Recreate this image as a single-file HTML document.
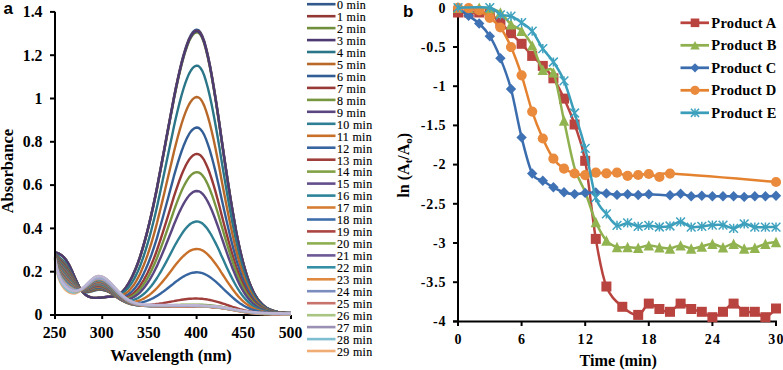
<!DOCTYPE html><html><head><meta charset="utf-8"><style>html,body{margin:0;padding:0;background:#fff;overflow:hidden}svg{display:block}</style></head><body><svg width="783" height="370" viewBox="0 0 783 370">
<rect width="783" height="370" fill="#fff"/>
<g stroke="#000" stroke-width="2" fill="none">
<line x1="50" y1="315.0" x2="291.0" y2="315.0"/>
<line x1="55.0" y1="315.0" x2="55.0" y2="319"/>
<line x1="102.2" y1="315.0" x2="102.2" y2="319"/>
<line x1="149.4" y1="315.0" x2="149.4" y2="319"/>
<line x1="196.6" y1="315.0" x2="196.6" y2="319"/>
<line x1="243.8" y1="315.0" x2="243.8" y2="319"/>
<line x1="291.0" y1="315.0" x2="291.0" y2="319"/>
</g>
<path d="M55.0,252.4 L56.9,252.9 L58.8,253.6 L60.7,254.7 L62.6,256.0 L64.4,257.9 L66.3,260.3 L68.2,263.3 L70.1,266.9 L72.0,271.0 L73.9,275.4 L75.8,279.7 L77.7,283.8 L79.5,287.4 L81.4,290.4 L83.3,292.7 L85.2,294.5 L87.1,295.8 L89.0,296.7 L90.9,297.3 L92.8,297.7 L94.6,297.9 L96.5,297.9 L98.4,297.8 L100.3,297.7 L102.2,297.5 L104.1,297.2 L106.0,297.0 L107.9,296.8 L109.8,296.6 L111.6,296.5 L113.5,296.3 L115.4,296.0 L117.3,295.3 L119.2,294.3 L121.1,292.8 L123.0,291.0 L124.9,288.8 L126.7,286.1 L128.6,283.1 L130.5,279.8 L132.4,276.0 L134.3,271.8 L136.2,267.2 L138.1,262.2 L140.0,256.7 L141.8,250.8 L143.7,244.4 L145.6,237.5 L147.5,230.2 L149.4,222.5 L151.3,214.3 L153.2,205.7 L155.1,196.7 L157.0,187.4 L158.8,177.8 L160.7,167.9 L162.6,157.8 L164.5,147.6 L166.4,137.3 L168.3,127.1 L170.2,116.9 L172.1,106.9 L173.9,97.2 L175.8,87.8 L177.7,78.9 L179.6,70.4 L181.5,62.6 L183.4,55.4 L185.3,49.0 L187.2,43.5 L189.0,38.8 L190.9,35.0 L192.8,32.2 L194.7,30.4 L196.6,29.7 L198.5,30.1 L200.4,32.2 L202.3,35.8 L204.2,40.9 L206.0,47.5 L207.9,55.4 L209.8,64.5 L211.7,74.6 L213.6,85.7 L215.5,97.5 L217.4,109.8 L219.3,122.6 L221.1,135.5 L223.0,148.6 L224.9,161.6 L226.8,174.3 L228.7,186.8 L230.6,198.8 L232.5,210.3 L234.4,221.2 L236.2,231.4 L238.1,240.9 L240.0,249.7 L241.9,257.7 L243.8,265.1 L245.7,271.7 L247.6,277.6 L249.5,282.8 L251.4,287.4 L253.2,291.5 L255.1,295.0 L257.0,298.0 L258.9,300.7 L260.8,302.9 L262.7,304.8 L264.6,306.3 L266.5,307.6 L268.3,308.7 L270.2,309.6 L272.1,310.4 L274.0,311.0 L275.9,311.5 L277.8,311.9 L279.7,312.2 L281.6,312.4 L283.4,312.6 L285.3,312.8 L287.2,312.9 L289.1,313.0 L291.0,313.0" fill="none" stroke="#33598C" stroke-width="2.4" stroke-linejoin="round"/>
<path d="M55.0,252.4 L56.9,252.9 L58.8,253.6 L60.7,254.7 L62.6,256.0 L64.4,257.9 L66.3,260.3 L68.2,263.3 L70.1,266.9 L72.0,271.0 L73.9,275.4 L75.8,279.7 L77.7,283.8 L79.5,287.4 L81.4,290.4 L83.3,292.7 L85.2,294.5 L87.1,295.8 L89.0,296.7 L90.9,297.3 L92.8,297.7 L94.6,297.9 L96.5,297.9 L98.4,297.8 L100.3,297.7 L102.2,297.5 L104.1,297.2 L106.0,297.0 L107.9,296.8 L109.8,296.7 L111.6,296.6 L113.5,296.4 L115.4,296.0 L117.3,295.4 L119.2,294.4 L121.1,293.0 L123.0,291.1 L124.9,288.9 L126.7,286.3 L128.6,283.3 L130.5,279.9 L132.4,276.2 L134.3,272.0 L136.2,267.5 L138.1,262.5 L140.0,257.0 L141.8,251.1 L143.7,244.8 L145.6,237.9 L147.5,230.7 L149.4,223.0 L151.3,214.8 L153.2,206.2 L155.1,197.3 L157.0,188.0 L158.8,178.4 L160.7,168.6 L162.6,158.5 L164.5,148.4 L166.4,138.1 L168.3,127.9 L170.2,117.8 L172.1,107.8 L173.9,98.1 L175.8,88.7 L177.7,79.8 L179.6,71.4 L181.5,63.6 L183.4,56.5 L185.3,50.1 L187.2,44.5 L189.0,39.8 L190.9,36.1 L192.8,33.3 L194.7,31.5 L196.6,30.8 L198.5,31.2 L200.4,33.2 L202.3,36.8 L204.2,42.0 L206.0,48.5 L207.9,56.4 L209.8,65.4 L211.7,75.5 L213.6,86.6 L215.5,98.3 L217.4,110.6 L219.3,123.3 L221.1,136.2 L223.0,149.2 L224.9,162.1 L226.8,174.9 L228.7,187.3 L230.6,199.2 L232.5,210.7 L234.4,221.5 L236.2,231.7 L238.1,241.2 L240.0,249.9 L241.9,257.9 L243.8,265.2 L245.7,271.8 L247.6,277.7 L249.5,282.9 L251.4,287.5 L253.2,291.6 L255.1,295.1 L257.0,298.1 L258.9,300.7 L260.8,302.9 L262.7,304.8 L264.6,306.4 L266.5,307.7 L268.3,308.8 L270.2,309.7 L272.1,310.4 L274.0,311.0 L275.9,311.5 L277.8,311.9 L279.7,312.2 L281.6,312.4 L283.4,312.6 L285.3,312.8 L287.2,312.9 L289.1,313.0 L291.0,313.0" fill="none" stroke="#923734" stroke-width="2.4" stroke-linejoin="round"/>
<path d="M55.0,252.4 L56.9,252.9 L58.8,253.6 L60.7,254.7 L62.6,256.1 L64.4,257.9 L66.3,260.3 L68.2,263.3 L70.1,266.9 L72.0,271.0 L73.9,275.4 L75.8,279.7 L77.7,283.8 L79.5,287.4 L81.4,290.4 L83.3,292.7 L85.2,294.5 L87.1,295.8 L89.0,296.7 L90.9,297.3 L92.8,297.7 L94.6,297.9 L96.5,297.9 L98.4,297.9 L100.3,297.7 L102.2,297.5 L104.1,297.3 L106.0,297.1 L107.9,296.9 L109.8,296.7 L111.6,296.6 L113.5,296.5 L115.4,296.1 L117.3,295.5 L119.2,294.5 L121.1,293.1 L123.0,291.3 L124.9,289.1 L126.7,286.5 L128.6,283.6 L130.5,280.2 L132.4,276.5 L134.3,272.4 L136.2,267.8 L138.1,262.9 L140.0,257.5 L141.8,251.6 L143.7,245.3 L145.6,238.5 L147.5,231.3 L149.4,223.6 L151.3,215.5 L153.2,207.0 L155.1,198.1 L157.0,188.9 L158.8,179.3 L160.7,169.5 L162.6,159.5 L164.5,149.4 L166.4,139.2 L168.3,129.0 L170.2,118.9 L172.1,109.0 L173.9,99.4 L175.8,90.0 L177.7,81.1 L179.6,72.8 L181.5,65.0 L183.4,57.9 L185.3,51.5 L187.2,46.0 L189.0,41.3 L190.9,37.6 L192.8,34.8 L194.7,33.0 L196.6,32.3 L198.5,32.7 L200.4,34.7 L202.3,38.3 L204.2,43.4 L206.0,49.9 L207.9,57.8 L209.8,66.8 L211.7,76.8 L213.6,87.8 L215.5,99.4 L217.4,111.7 L219.3,124.3 L221.1,137.2 L223.0,150.1 L224.9,163.0 L226.8,175.6 L228.7,187.9 L230.6,199.8 L232.5,211.2 L234.4,222.0 L236.2,232.1 L238.1,241.5 L240.0,250.3 L241.9,258.2 L243.8,265.5 L245.7,272.0 L247.6,277.9 L249.5,283.1 L251.4,287.7 L253.2,291.7 L255.1,295.2 L257.0,298.2 L258.9,300.8 L260.8,303.0 L262.7,304.8 L264.6,306.4 L266.5,307.7 L268.3,308.8 L270.2,309.7 L272.1,310.4 L274.0,311.0 L275.9,311.5 L277.8,311.9 L279.7,312.2 L281.6,312.4 L283.4,312.6 L285.3,312.8 L287.2,312.9 L289.1,313.0 L291.0,313.1" fill="none" stroke="#718E3C" stroke-width="2.4" stroke-linejoin="round"/>
<path d="M55.0,252.4 L56.9,252.9 L58.8,253.6 L60.7,254.7 L62.6,256.1 L64.4,257.9 L66.3,260.3 L68.2,263.3 L70.1,266.9 L72.0,271.0 L73.9,275.4 L75.8,279.7 L77.7,283.8 L79.5,287.4 L81.4,290.4 L83.3,292.7 L85.2,294.5 L87.1,295.8 L89.0,296.7 L90.9,297.3 L92.8,297.7 L94.6,297.9 L96.5,297.9 L98.4,297.8 L100.3,297.7 L102.2,297.5 L104.1,297.3 L106.0,297.0 L107.9,296.8 L109.8,296.7 L111.6,296.6 L113.5,296.4 L115.4,296.1 L117.3,295.4 L119.2,294.4 L121.1,293.0 L123.0,291.2 L124.9,288.9 L126.7,286.4 L128.6,283.4 L130.5,280.0 L132.4,276.3 L134.3,272.1 L136.2,267.6 L138.1,262.6 L140.0,257.2 L141.8,251.3 L143.7,244.9 L145.6,238.1 L147.5,230.8 L149.4,223.1 L151.3,215.0 L153.2,206.5 L155.1,197.5 L157.0,188.2 L158.8,178.7 L160.7,168.8 L162.6,158.8 L164.5,148.7 L166.4,138.4 L168.3,128.2 L170.2,118.1 L172.1,108.2 L173.9,98.5 L175.8,89.1 L177.7,80.2 L179.6,71.8 L181.5,64.0 L183.4,56.9 L185.3,50.5 L187.2,44.9 L189.0,40.2 L190.9,36.5 L192.8,33.7 L194.7,31.9 L196.6,31.2 L198.5,31.6 L200.4,33.7 L202.3,37.3 L204.2,42.4 L206.0,48.9 L207.9,56.8 L209.8,65.8 L211.7,75.9 L213.6,86.9 L215.5,98.6 L217.4,110.9 L219.3,123.6 L221.1,136.5 L223.0,149.5 L224.9,162.4 L226.8,175.1 L228.7,187.5 L230.6,199.4 L232.5,210.8 L234.4,221.6 L236.2,231.8 L238.1,241.3 L240.0,250.0 L241.9,258.0 L243.8,265.3 L245.7,271.9 L247.6,277.8 L249.5,283.0 L251.4,287.6 L253.2,291.6 L255.1,295.1 L257.0,298.1 L258.9,300.7 L260.8,302.9 L262.7,304.8 L264.6,306.4 L266.5,307.7 L268.3,308.8 L270.2,309.7 L272.1,310.4 L274.0,311.0 L275.9,311.5 L277.8,311.9 L279.7,312.2 L281.6,312.4 L283.4,312.6 L285.3,312.8 L287.2,312.9 L289.1,313.0 L291.0,313.0" fill="none" stroke="#4D3A73" stroke-width="2.4" stroke-linejoin="round"/>
<path d="M55.0,253.3 L56.9,255.3 L58.8,256.8 L60.7,258.4 L62.6,260.1 L64.4,262.1 L66.3,264.6 L68.2,267.6 L70.1,271.0 L72.0,274.7 L73.9,278.5 L75.8,282.2 L77.7,285.4 L79.5,288.1 L81.4,290.1 L83.3,291.4 L85.2,292.1 L87.1,292.3 L89.0,292.1 L90.9,291.7 L92.8,291.1 L94.6,290.6 L96.5,290.1 L98.4,289.8 L100.3,289.8 L102.2,289.9 L104.1,290.2 L106.0,290.6 L107.9,291.2 L109.8,291.9 L111.6,292.6 L113.5,293.3 L115.4,293.9 L117.3,294.1 L119.2,294.0 L121.1,293.5 L123.0,292.6 L124.9,291.2 L126.7,289.5 L128.6,287.4 L130.5,284.8 L132.4,281.9 L134.3,278.6 L136.2,274.9 L138.1,270.8 L140.0,266.3 L141.8,261.4 L143.7,256.0 L145.6,250.2 L147.5,243.9 L149.4,237.3 L151.3,230.2 L153.2,222.8 L155.1,215.0 L157.0,206.8 L158.8,198.4 L160.7,189.7 L162.6,180.8 L164.5,171.8 L166.4,162.6 L168.3,153.5 L170.2,144.4 L172.1,135.5 L173.9,126.7 L175.8,118.3 L177.7,110.2 L179.6,102.6 L181.5,95.5 L183.4,89.0 L185.3,83.2 L187.2,78.1 L189.0,73.9 L190.9,70.5 L192.8,67.9 L194.7,66.3 L196.6,65.6 L198.5,66.0 L200.4,67.8 L202.3,70.9 L204.2,75.4 L206.0,81.2 L207.9,88.0 L209.8,96.0 L211.7,104.8 L213.6,114.4 L215.5,124.7 L217.4,135.5 L219.3,146.6 L221.1,157.9 L223.0,169.3 L224.9,180.6 L226.8,191.8 L228.7,202.7 L230.6,213.1 L232.5,223.2 L234.4,232.7 L236.2,241.6 L238.1,249.9 L240.0,257.6 L241.9,264.7 L243.8,271.1 L245.7,276.9 L247.6,282.0 L249.5,286.6 L251.4,290.7 L253.2,294.2 L255.1,297.3 L257.0,300.0 L258.9,302.3 L260.8,304.2 L262.7,305.9 L264.6,307.2 L266.5,308.4 L268.3,309.4 L270.2,310.2 L272.1,310.8 L274.0,311.3 L275.9,311.8 L277.8,312.1 L279.7,312.4 L281.6,312.6 L283.4,312.8 L285.3,312.9 L287.2,313.0 L289.1,313.1 L291.0,313.2" fill="none" stroke="#2A7587" stroke-width="2.4" stroke-linejoin="round"/>
<path d="M55.0,253.7 L56.9,256.3 L58.8,258.2 L60.7,259.9 L62.6,261.8 L64.4,263.8 L66.3,266.3 L68.2,269.1 L70.1,272.3 L72.0,275.8 L73.9,279.4 L75.8,282.8 L77.7,285.8 L79.5,288.3 L81.4,290.1 L83.3,291.3 L85.2,291.8 L87.1,291.9 L89.0,291.7 L90.9,291.3 L92.8,290.7 L94.6,290.2 L96.5,289.8 L98.4,289.6 L100.3,289.6 L102.2,289.8 L104.1,290.1 L106.0,290.7 L107.9,291.4 L109.8,292.2 L111.6,293.1 L113.5,294.0 L115.4,294.8 L117.3,295.3 L119.2,295.5 L121.1,295.4 L123.0,294.9 L124.9,293.9 L126.7,292.7 L128.6,291.1 L130.5,289.1 L132.4,286.8 L134.3,284.2 L136.2,281.1 L138.1,277.7 L140.0,274.0 L141.8,269.8 L143.7,265.3 L145.6,260.4 L147.5,255.1 L149.4,249.4 L151.3,243.3 L153.2,236.9 L155.1,230.1 L157.0,223.0 L158.8,215.6 L160.7,208.0 L162.6,200.1 L164.5,192.2 L166.4,184.1 L168.3,176.0 L170.2,167.9 L172.1,159.9 L173.9,152.1 L175.8,144.5 L177.7,137.2 L179.6,130.4 L181.5,124.0 L183.4,118.2 L185.3,112.9 L187.2,108.3 L189.0,104.5 L190.9,101.4 L192.8,99.1 L194.7,97.6 L196.6,97.0 L198.5,97.4 L200.4,98.9 L202.3,101.7 L204.2,105.6 L206.0,110.6 L207.9,116.6 L209.8,123.5 L211.7,131.2 L213.6,139.6 L215.5,148.5 L217.4,157.9 L219.3,167.6 L221.1,177.5 L223.0,187.4 L224.9,197.3 L226.8,207.0 L228.7,216.5 L230.6,225.7 L232.5,234.4 L234.4,242.7 L236.2,250.6 L238.1,257.8 L240.0,264.6 L241.9,270.7 L243.8,276.3 L245.7,281.4 L247.6,285.9 L249.5,290.0 L251.4,293.5 L253.2,296.6 L255.1,299.3 L257.0,301.7 L258.9,303.7 L260.8,305.4 L262.7,306.8 L264.6,308.0 L266.5,309.0 L268.3,309.9 L270.2,310.6 L272.1,311.1 L274.0,311.6 L275.9,312.0 L277.8,312.3 L279.7,312.5 L281.6,312.7 L283.4,312.9 L285.3,313.0 L287.2,313.1 L289.1,313.2 L291.0,313.2" fill="none" stroke="#B8692A" stroke-width="2.4" stroke-linejoin="round"/>
<path d="M55.0,254.0 L56.9,256.9 L58.8,259.0 L60.7,260.9 L62.6,262.7 L64.4,264.8 L66.3,267.2 L68.2,270.0 L70.1,273.1 L72.0,276.5 L73.9,280.0 L75.8,283.2 L77.7,286.1 L79.5,288.4 L81.4,290.1 L83.3,291.1 L85.2,291.6 L87.1,291.7 L89.0,291.4 L90.9,290.9 L92.8,290.3 L94.6,289.8 L96.5,289.4 L98.4,289.2 L100.3,289.3 L102.2,289.5 L104.1,290.0 L106.0,290.6 L107.9,291.5 L109.8,292.4 L111.6,293.5 L113.5,294.6 L115.4,295.6 L117.3,296.4 L119.2,296.8 L121.1,297.0 L123.0,296.8 L124.9,296.3 L126.7,295.4 L128.6,294.3 L130.5,292.8 L132.4,291.0 L134.3,288.9 L136.2,286.5 L138.1,283.8 L140.0,280.8 L141.8,277.4 L143.7,273.6 L145.6,269.5 L147.5,265.1 L149.4,260.3 L151.3,255.2 L153.2,249.7 L155.1,243.9 L157.0,237.9 L158.8,231.5 L160.7,225.0 L162.6,218.2 L164.5,211.3 L166.4,204.2 L168.3,197.2 L170.2,190.1 L172.1,183.1 L173.9,176.2 L175.8,169.6 L177.7,163.2 L179.6,157.1 L181.5,151.5 L183.4,146.3 L185.3,141.7 L187.2,137.6 L189.0,134.2 L190.9,131.4 L192.8,129.4 L194.7,128.1 L196.6,127.5 L198.5,127.8 L200.4,129.2 L202.3,131.5 L204.2,134.9 L206.0,139.1 L207.9,144.3 L209.8,150.2 L211.7,156.8 L213.6,164.0 L215.5,171.6 L217.4,179.7 L219.3,188.0 L221.1,196.5 L223.0,205.0 L224.9,213.5 L226.8,221.8 L228.7,230.0 L230.6,237.9 L232.5,245.4 L234.4,252.5 L236.2,259.3 L238.1,265.5 L240.0,271.3 L241.9,276.6 L243.8,281.5 L245.7,285.8 L247.6,289.7 L249.5,293.2 L251.4,296.3 L253.2,298.9 L255.1,301.3 L257.0,303.3 L258.9,305.0 L260.8,306.5 L262.7,307.7 L264.6,308.8 L266.5,309.6 L268.3,310.4 L270.2,311.0 L272.1,311.5 L274.0,311.9 L275.9,312.2 L277.8,312.4 L279.7,312.7 L281.6,312.8 L283.4,313.0 L285.3,313.1 L287.2,313.1 L289.1,313.2 L291.0,313.3" fill="none" stroke="#335E95" stroke-width="2.4" stroke-linejoin="round"/>
<path d="M55.0,254.2 L56.9,257.5 L58.8,259.8 L60.7,261.8 L62.6,263.7 L64.4,265.8 L66.3,268.2 L68.2,270.9 L70.1,274.0 L72.0,277.2 L73.9,280.5 L75.8,283.6 L77.7,286.3 L79.5,288.5 L81.4,290.1 L83.3,291.0 L85.2,291.4 L87.1,291.3 L89.0,291.0 L90.9,290.5 L92.8,289.9 L94.6,289.3 L96.5,288.9 L98.4,288.7 L100.3,288.8 L102.2,289.1 L104.1,289.7 L106.0,290.4 L107.9,291.3 L109.8,292.4 L111.6,293.6 L113.5,294.8 L115.4,296.0 L117.3,296.9 L119.2,297.6 L121.1,298.0 L123.0,298.1 L124.9,297.9 L126.7,297.4 L128.6,296.6 L130.5,295.5 L132.4,294.2 L134.3,292.6 L136.2,290.7 L138.1,288.5 L140.0,286.0 L141.8,283.2 L143.7,280.1 L145.6,276.7 L147.5,273.0 L149.4,269.0 L151.3,264.7 L153.2,260.1 L155.1,255.2 L157.0,250.0 L158.8,244.6 L160.7,239.0 L162.6,233.2 L164.5,227.2 L166.4,221.1 L168.3,215.0 L170.2,208.8 L172.1,202.7 L173.9,196.7 L175.8,190.9 L177.7,185.3 L179.6,180.0 L181.5,175.0 L183.4,170.5 L185.3,166.4 L187.2,162.8 L189.0,159.8 L190.9,157.4 L192.8,155.6 L194.7,154.4 L196.6,153.9 L198.5,154.2 L200.4,155.3 L202.3,157.4 L204.2,160.2 L206.0,163.9 L207.9,168.3 L209.8,173.3 L211.7,179.0 L213.6,185.1 L215.5,191.7 L217.4,198.6 L219.3,205.7 L221.1,212.9 L223.0,220.2 L224.9,227.5 L226.8,234.6 L228.7,241.6 L230.6,248.4 L232.5,254.9 L234.4,261.0 L236.2,266.8 L238.1,272.2 L240.0,277.2 L241.9,281.7 L243.8,285.9 L245.7,289.7 L247.6,293.0 L249.5,296.0 L251.4,298.6 L253.2,300.9 L255.1,303.0 L257.0,304.7 L258.9,306.2 L260.8,307.4 L262.7,308.5 L264.6,309.4 L266.5,310.2 L268.3,310.8 L270.2,311.3 L272.1,311.7 L274.0,312.1 L275.9,312.4 L277.8,312.6 L279.7,312.8 L281.6,312.9 L283.4,313.0 L285.3,313.1 L287.2,313.2 L289.1,313.3 L291.0,313.3" fill="none" stroke="#983A37" stroke-width="2.4" stroke-linejoin="round"/>
<path d="M55.0,254.5 L56.9,258.1 L58.8,260.6 L60.7,262.7 L62.6,264.7 L64.4,266.8 L66.3,269.2 L68.2,271.8 L70.1,274.8 L72.0,277.9 L73.9,281.1 L75.8,284.0 L77.7,286.6 L79.5,288.6 L81.4,290.0 L83.3,290.8 L85.2,291.1 L87.1,291.0 L89.0,290.6 L90.9,290.0 L92.8,289.3 L94.6,288.8 L96.5,288.4 L98.4,288.2 L100.3,288.3 L102.2,288.7 L104.1,289.2 L106.0,290.0 L107.9,291.0 L109.8,292.1 L111.6,293.4 L113.5,294.7 L115.4,296.0 L117.3,297.1 L119.2,297.9 L121.1,298.5 L123.0,298.8 L124.9,298.7 L126.7,298.5 L128.6,297.9 L130.5,297.1 L132.4,296.0 L134.3,294.7 L136.2,293.2 L138.1,291.3 L140.0,289.2 L141.8,286.9 L143.7,284.2 L145.6,281.3 L147.5,278.1 L149.4,274.6 L151.3,270.9 L153.2,266.8 L155.1,262.5 L157.0,258.0 L158.8,253.2 L160.7,248.2 L162.6,243.1 L164.5,237.8 L166.4,232.4 L168.3,226.9 L170.2,221.4 L172.1,216.0 L173.9,210.6 L175.8,205.4 L177.7,200.4 L179.6,195.6 L181.5,191.1 L183.4,187.0 L185.3,183.4 L187.2,180.1 L189.0,177.4 L190.9,175.2 L192.8,173.6 L194.7,172.6 L196.6,172.1 L198.5,172.4 L200.4,173.4 L202.3,175.2 L204.2,177.7 L206.0,180.9 L207.9,184.8 L209.8,189.3 L211.7,194.2 L213.6,199.7 L215.5,205.5 L217.4,211.5 L219.3,217.8 L221.1,224.2 L223.0,230.7 L224.9,237.1 L226.8,243.5 L228.7,249.7 L230.6,255.7 L232.5,261.4 L234.4,266.8 L236.2,272.0 L238.1,276.8 L240.0,281.2 L241.9,285.2 L243.8,288.9 L245.7,292.3 L247.6,295.3 L249.5,297.9 L251.4,300.3 L253.2,302.3 L255.1,304.1 L257.0,305.7 L258.9,307.0 L260.8,308.1 L262.7,309.1 L264.6,309.9 L266.5,310.5 L268.3,311.1 L270.2,311.6 L272.1,311.9 L274.0,312.3 L275.9,312.5 L277.8,312.7 L279.7,312.9 L281.6,313.0 L283.4,313.1 L285.3,313.2 L287.2,313.2 L289.1,313.3 L291.0,313.3" fill="none" stroke="#78963F" stroke-width="2.4" stroke-linejoin="round"/>
<path d="M55.0,254.7 L56.9,258.7 L58.8,261.5 L60.7,263.7 L62.6,265.7 L64.4,267.8 L66.3,270.2 L68.2,272.8 L70.1,275.6 L72.0,278.6 L73.9,281.6 L75.8,284.4 L77.7,286.8 L79.5,288.7 L81.4,290.0 L83.3,290.7 L85.2,290.9 L87.1,290.7 L89.0,290.2 L90.9,289.5 L92.8,288.8 L94.6,288.2 L96.5,287.8 L98.4,287.6 L100.3,287.8 L102.2,288.1 L104.1,288.8 L106.0,289.6 L107.9,290.6 L109.8,291.8 L111.6,293.2 L113.5,294.6 L115.4,296.0 L117.3,297.2 L119.2,298.1 L121.1,298.9 L123.0,299.3 L124.9,299.5 L126.7,299.4 L128.6,299.1 L130.5,298.6 L132.4,297.8 L134.3,296.8 L136.2,295.5 L138.1,294.1 L140.0,292.3 L141.8,290.4 L143.7,288.2 L145.6,285.7 L147.5,283.0 L149.4,280.1 L151.3,276.9 L153.2,273.5 L155.1,269.8 L157.0,265.9 L158.8,261.8 L160.7,257.5 L162.6,253.0 L164.5,248.5 L166.4,243.8 L168.3,239.0 L170.2,234.2 L172.1,229.5 L173.9,224.8 L175.8,220.2 L177.7,215.8 L179.6,211.6 L181.5,207.7 L183.4,204.1 L185.3,200.8 L187.2,198.0 L189.0,195.6 L190.9,193.7 L192.8,192.2 L194.7,191.3 L196.6,191.0 L198.5,191.2 L200.4,192.0 L202.3,193.6 L204.2,195.8 L206.0,198.5 L207.9,201.9 L209.8,205.7 L211.7,210.0 L213.6,214.7 L215.5,219.7 L217.4,225.0 L219.3,230.4 L221.1,236.0 L223.0,241.5 L224.9,247.1 L226.8,252.6 L228.7,258.0 L230.6,263.2 L232.5,268.2 L234.4,272.9 L236.2,277.3 L238.1,281.5 L240.0,285.4 L241.9,288.9 L243.8,292.1 L245.7,295.0 L247.6,297.6 L249.5,299.9 L251.4,302.0 L253.2,303.8 L255.1,305.3 L257.0,306.7 L258.9,307.8 L260.8,308.8 L262.7,309.6 L264.6,310.3 L266.5,310.9 L268.3,311.4 L270.2,311.8 L272.1,312.1 L274.0,312.4 L275.9,312.6 L277.8,312.8 L279.7,313.0 L281.6,313.1 L283.4,313.2 L285.3,313.2 L287.2,313.3 L289.1,313.3 L291.0,313.4" fill="none" stroke="#5A4680" stroke-width="2.4" stroke-linejoin="round"/>
<path d="M55.0,255.0 L56.9,259.4 L58.8,262.3 L60.7,264.6 L62.6,266.7 L64.4,268.8 L66.3,271.1 L68.2,273.7 L70.1,276.4 L72.0,279.3 L73.9,282.2 L75.8,284.8 L77.7,287.1 L79.5,288.8 L81.4,290.0 L83.3,290.5 L85.2,290.6 L87.1,290.3 L89.0,289.8 L90.9,289.0 L92.8,288.3 L94.6,287.7 L96.5,287.3 L98.4,287.1 L100.3,287.3 L102.2,287.7 L104.1,288.3 L106.0,289.2 L107.9,290.3 L109.8,291.6 L111.6,293.1 L113.5,294.6 L115.4,296.1 L117.3,297.4 L119.2,298.6 L121.1,299.5 L123.0,300.2 L124.9,300.6 L126.7,300.8 L128.6,300.8 L130.5,300.7 L132.4,300.3 L134.3,299.7 L136.2,298.9 L138.1,298.0 L140.0,296.8 L141.8,295.5 L143.7,294.0 L145.6,292.3 L147.5,290.4 L149.4,288.3 L151.3,286.0 L153.2,283.5 L155.1,280.8 L157.0,278.0 L158.8,275.0 L160.7,271.8 L162.6,268.5 L164.5,265.1 L166.4,261.6 L168.3,258.0 L170.2,254.4 L172.1,250.8 L173.9,247.3 L175.8,243.8 L177.7,240.5 L179.6,237.3 L181.5,234.3 L183.4,231.5 L185.3,229.0 L187.2,226.9 L189.0,225.0 L190.9,223.5 L192.8,222.5 L194.7,221.8 L196.6,221.5 L198.5,221.6 L200.4,222.3 L202.3,223.4 L204.2,225.1 L206.0,227.1 L207.9,229.6 L209.8,232.5 L211.7,235.7 L213.6,239.2 L215.5,242.9 L217.4,246.8 L219.3,250.8 L221.1,255.0 L223.0,259.1 L224.9,263.3 L226.8,267.4 L228.7,271.5 L230.6,275.4 L232.5,279.1 L234.4,282.7 L236.2,286.0 L238.1,289.2 L240.0,292.1 L241.9,294.8 L243.8,297.2 L245.7,299.4 L247.6,301.4 L249.5,303.2 L251.4,304.7 L253.2,306.1 L255.1,307.3 L257.0,308.3 L258.9,309.2 L260.8,309.9 L262.7,310.6 L264.6,311.1 L266.5,311.5 L268.3,311.9 L270.2,312.2 L272.1,312.5 L274.0,312.7 L275.9,312.8 L277.8,313.0 L279.7,313.1 L281.6,313.2 L283.4,313.2 L285.3,313.3 L287.2,313.3 L289.1,313.4 L291.0,313.4" fill="none" stroke="#2E7F93" stroke-width="2.4" stroke-linejoin="round"/>
<path d="M55.0,255.2 L56.9,260.0 L58.8,263.1 L60.7,265.5 L62.6,267.7 L64.4,269.8 L66.3,272.1 L68.2,274.6 L70.1,277.2 L72.0,280.0 L73.9,282.7 L75.8,285.2 L77.7,287.3 L79.5,288.9 L81.4,289.9 L83.3,290.4 L85.2,290.4 L87.1,290.0 L89.0,289.3 L90.9,288.6 L92.8,287.8 L94.6,287.1 L96.5,286.7 L98.4,286.5 L100.3,286.7 L102.2,287.1 L104.1,287.8 L106.0,288.7 L107.9,289.9 L109.8,291.3 L111.6,292.8 L113.5,294.4 L115.4,296.0 L117.3,297.4 L119.2,298.7 L121.1,299.8 L123.0,300.7 L124.9,301.3 L126.7,301.8 L128.6,302.0 L130.5,302.1 L132.4,302.1 L134.3,301.9 L136.2,301.5 L138.1,301.0 L140.0,300.3 L141.8,299.5 L143.7,298.6 L145.6,297.5 L147.5,296.2 L149.4,294.9 L151.3,293.4 L153.2,291.7 L155.1,289.9 L157.0,288.0 L158.8,286.0 L160.7,283.8 L162.6,281.6 L164.5,279.3 L166.4,276.9 L168.3,274.4 L170.2,271.9 L172.1,269.4 L173.9,267.0 L175.8,264.6 L177.7,262.2 L179.6,260.0 L181.5,257.9 L183.4,256.0 L185.3,254.3 L187.2,252.7 L189.0,251.4 L190.9,250.4 L192.8,249.6 L194.7,249.2 L196.6,249.0 L198.5,249.1 L200.4,249.5 L202.3,250.3 L204.2,251.5 L206.0,252.9 L207.9,254.6 L209.8,256.6 L211.7,258.8 L213.6,261.2 L215.5,263.7 L217.4,266.4 L219.3,269.2 L221.1,272.1 L223.0,275.0 L224.9,277.9 L226.8,280.8 L228.7,283.6 L230.6,286.3 L232.5,289.0 L234.4,291.5 L236.2,293.9 L238.1,296.1 L240.0,298.2 L241.9,300.1 L243.8,301.8 L245.7,303.4 L247.6,304.8 L249.5,306.1 L251.4,307.2 L253.2,308.2 L255.1,309.0 L257.0,309.8 L258.9,310.4 L260.8,310.9 L262.7,311.4 L264.6,311.8 L266.5,312.1 L268.3,312.4 L270.2,312.6 L272.1,312.8 L274.0,312.9 L275.9,313.0 L277.8,313.1 L279.7,313.2 L281.6,313.3 L283.4,313.3 L285.3,313.4 L287.2,313.4 L289.1,313.4 L291.0,313.4" fill="none" stroke="#C8702A" stroke-width="2.4" stroke-linejoin="round"/>
<path d="M55.0,255.5 L56.9,260.6 L58.8,263.9 L60.7,266.4 L62.6,268.7 L64.4,270.8 L66.3,273.1 L68.2,275.5 L70.1,278.1 L72.0,280.7 L73.9,283.3 L75.8,285.6 L77.7,287.6 L79.5,289.0 L81.4,289.9 L83.3,290.2 L85.2,290.1 L87.1,289.6 L89.0,288.9 L90.9,288.1 L92.8,287.2 L94.6,286.6 L96.5,286.1 L98.4,285.9 L100.3,286.1 L102.2,286.5 L104.1,287.3 L106.0,288.2 L107.9,289.4 L109.8,290.8 L111.6,292.4 L113.5,294.1 L115.4,295.7 L117.3,297.3 L119.2,298.7 L121.1,299.9 L123.0,300.9 L124.9,301.7 L126.7,302.3 L128.6,302.8 L130.5,303.1 L132.4,303.3 L134.3,303.3 L136.2,303.3 L138.1,303.1 L140.0,302.8 L141.8,302.4 L143.7,301.9 L145.6,301.3 L147.5,300.7 L149.4,299.9 L151.3,299.0 L153.2,298.1 L155.1,297.0 L157.0,295.9 L158.8,294.7 L160.7,293.4 L162.6,292.1 L164.5,290.7 L166.4,289.3 L168.3,287.8 L170.2,286.3 L172.1,284.8 L173.9,283.3 L175.8,281.8 L177.7,280.4 L179.6,279.1 L181.5,277.8 L183.4,276.6 L185.3,275.5 L187.2,274.6 L189.0,273.8 L190.9,273.2 L192.8,272.7 L194.7,272.5 L196.6,272.3 L198.5,272.4 L200.4,272.7 L202.3,273.2 L204.2,273.9 L206.0,274.8 L207.9,275.8 L209.8,277.0 L211.7,278.4 L213.6,279.9 L215.5,281.4 L217.4,283.1 L219.3,284.9 L221.1,286.7 L223.0,288.5 L224.9,290.3 L226.8,292.1 L228.7,293.9 L230.6,295.7 L232.5,297.4 L234.4,299.0 L236.2,300.5 L238.1,302.0 L240.0,303.4 L241.9,304.6 L243.8,305.8 L245.7,306.8 L247.6,307.7 L249.5,308.6 L251.4,309.3 L253.2,310.0 L255.1,310.5 L257.0,311.0 L258.9,311.4 L260.8,311.8 L262.7,312.1 L264.6,312.3 L266.5,312.6 L268.3,312.7 L270.2,312.9 L272.1,313.0 L274.0,313.1 L275.9,313.2 L277.8,313.3 L279.7,313.3 L281.6,313.4 L283.4,313.4 L285.3,313.4 L287.2,313.5 L289.1,313.5 L291.0,313.5" fill="none" stroke="#3765A0" stroke-width="2.4" stroke-linejoin="round"/>
<path d="M55.0,255.7 L56.9,261.2 L58.8,264.7 L60.7,267.4 L62.6,269.7 L64.4,271.8 L66.3,274.1 L68.2,276.4 L70.1,278.9 L72.0,281.4 L73.9,283.8 L75.8,286.0 L77.7,287.8 L79.5,289.1 L81.4,289.8 L83.3,290.0 L85.2,289.8 L87.1,289.3 L89.0,288.5 L90.9,287.6 L92.8,286.7 L94.6,286.0 L96.5,285.5 L98.4,285.3 L100.3,285.5 L102.2,286.0 L104.1,286.7 L106.0,287.7 L107.9,288.9 L109.8,290.4 L111.6,292.0 L113.5,293.7 L115.4,295.4 L117.3,297.1 L119.2,298.6 L121.1,299.9 L123.0,301.0 L124.9,302.0 L126.7,302.8 L128.6,303.4 L130.5,304.0 L132.4,304.4 L134.3,304.7 L136.2,304.9 L138.1,305.1 L140.0,305.2 L141.8,305.2 L143.7,305.2 L145.6,305.1 L147.5,305.0 L149.4,304.9 L151.3,304.7 L153.2,304.5 L155.1,304.3 L157.0,304.0 L158.8,303.8 L160.7,303.5 L162.6,303.2 L164.5,302.8 L166.4,302.5 L168.3,302.1 L170.2,301.8 L172.1,301.4 L173.9,301.1 L175.8,300.7 L177.7,300.4 L179.6,300.1 L181.5,299.8 L183.4,299.5 L185.3,299.2 L187.2,299.0 L189.0,298.8 L190.9,298.7 L192.8,298.6 L194.7,298.5 L196.6,298.5 L198.5,298.6 L200.4,298.7 L202.3,298.8 L204.2,299.1 L206.0,299.3 L207.9,299.6 L209.8,300.0 L211.7,300.4 L213.6,300.8 L215.5,301.3 L217.4,301.8 L219.3,302.4 L221.1,303.0 L223.0,303.6 L224.9,304.2 L226.8,304.8 L228.7,305.5 L230.6,306.1 L232.5,306.8 L234.4,307.4 L236.2,308.0 L238.1,308.6 L240.0,309.2 L241.9,309.7 L243.8,310.2 L245.7,310.6 L247.6,311.0 L249.5,311.3 L251.4,311.7 L253.2,311.9 L255.1,312.2 L257.0,312.4 L258.9,312.6 L260.8,312.7 L262.7,312.9 L264.6,313.0 L266.5,313.1 L268.3,313.2 L270.2,313.2 L272.1,313.3 L274.0,313.3 L275.9,313.4 L277.8,313.4 L279.7,313.4 L281.6,313.5 L283.4,313.5 L285.3,313.5 L287.2,313.5 L289.1,313.5 L291.0,313.5" fill="none" stroke="#A03E3B" stroke-width="2.4" stroke-linejoin="round"/>
<path d="M55.0,256.0 L56.9,261.8 L58.8,265.5 L60.7,268.3 L62.6,270.6 L64.4,272.8 L66.3,275.1 L68.2,277.3 L70.1,279.7 L72.0,282.1 L73.9,284.4 L75.8,286.4 L77.7,288.0 L79.5,289.2 L81.4,289.8 L83.3,289.9 L85.2,289.6 L87.1,288.9 L89.0,288.0 L90.9,287.1 L92.8,286.1 L94.6,285.4 L96.5,284.9 L98.4,284.7 L100.3,284.9 L102.2,285.3 L104.1,286.1 L106.0,287.1 L107.9,288.3 L109.8,289.8 L111.6,291.5 L113.5,293.2 L115.4,295.0 L117.3,296.6 L119.2,298.2 L121.1,299.5 L123.0,300.7 L124.9,301.8 L126.7,302.6 L128.6,303.3 L130.5,304.0 L132.4,304.4 L134.3,304.8 L136.2,305.2 L138.1,305.4 L140.0,305.6 L141.8,305.7 L143.7,305.8 L145.6,305.9 L147.5,305.9 L149.4,305.9 L151.3,305.9 L153.2,305.9 L155.1,305.8 L157.0,305.8 L158.8,305.7 L160.7,305.6 L162.6,305.6 L164.5,305.5 L166.4,305.4 L168.3,305.3 L170.2,305.3 L172.1,305.2 L173.9,305.1 L175.8,305.0 L177.7,304.9 L179.6,304.9 L181.5,304.8 L183.4,304.7 L185.3,304.7 L187.2,304.6 L189.0,304.6 L190.9,304.6 L192.8,304.6 L194.7,304.6 L196.6,304.6 L198.5,304.6 L200.4,304.7 L202.3,304.8 L204.2,304.9 L206.0,305.0 L207.9,305.1 L209.8,305.3 L211.7,305.5 L213.6,305.7 L215.5,305.9 L217.4,306.2 L219.3,306.4 L221.1,306.7 L223.0,307.1 L224.9,307.4 L226.8,307.8 L228.7,308.2 L230.6,308.5 L232.5,308.9 L234.4,309.3 L236.2,309.7 L238.1,310.1 L240.0,310.5 L241.9,310.8 L243.8,311.2 L245.7,311.5 L247.6,311.7 L249.5,312.0 L251.4,312.2 L253.2,312.4 L255.1,312.6 L257.0,312.7 L258.9,312.9 L260.8,313.0 L262.7,313.1 L264.6,313.1 L266.5,313.2 L268.3,313.3 L270.2,313.3 L272.1,313.4 L274.0,313.4 L275.9,313.4 L277.8,313.5 L279.7,313.5 L281.6,313.5 L283.4,313.5 L285.3,313.5 L287.2,313.5 L289.1,313.5 L291.0,313.5" fill="none" stroke="#82A147" stroke-width="2.4" stroke-linejoin="round"/>
<path d="M55.0,256.2 L56.9,262.4 L58.8,266.3 L60.7,269.2 L62.6,271.6 L64.4,273.8 L66.3,276.0 L68.2,278.3 L70.1,280.5 L72.0,282.8 L73.9,284.9 L75.8,286.8 L77.7,288.3 L79.5,289.3 L81.4,289.7 L83.3,289.7 L85.2,289.3 L87.1,288.5 L89.0,287.6 L90.9,286.6 L92.8,285.6 L94.6,284.8 L96.5,284.3 L98.4,284.1 L100.3,284.2 L102.2,284.7 L104.1,285.5 L106.0,286.5 L107.9,287.8 L109.8,289.3 L111.6,290.9 L113.5,292.7 L115.4,294.5 L117.3,296.2 L119.2,297.7 L121.1,299.2 L123.0,300.4 L124.9,301.5 L126.7,302.4 L128.6,303.2 L130.5,303.8 L132.4,304.3 L134.3,304.8 L136.2,305.1 L138.1,305.4 L140.0,305.6 L141.8,305.8 L143.7,305.9 L145.6,306.0 L147.5,306.1 L149.4,306.2 L151.3,306.2 L153.2,306.2 L155.1,306.2 L157.0,306.3 L158.8,306.3 L160.7,306.3 L162.6,306.3 L164.5,306.3 L166.4,306.3 L168.3,306.3 L170.2,306.3 L172.1,306.3 L173.9,306.3 L175.8,306.3 L177.7,306.3 L179.6,306.3 L181.5,306.3 L183.4,306.3 L185.3,306.4 L187.2,306.4 L189.0,306.4 L190.9,306.4 L192.8,306.4 L194.7,306.5 L196.6,306.5 L198.5,306.5 L200.4,306.6 L202.3,306.6 L204.2,306.7 L206.0,306.8 L207.9,306.8 L209.8,306.9 L211.7,307.1 L213.6,307.2 L215.5,307.3 L217.4,307.5 L219.3,307.7 L221.1,307.9 L223.0,308.2 L224.9,308.4 L226.8,308.7 L228.7,309.0 L230.6,309.3 L232.5,309.6 L234.4,309.9 L236.2,310.3 L238.1,310.6 L240.0,310.9 L241.9,311.2 L243.8,311.5 L245.7,311.7 L247.6,312.0 L249.5,312.2 L251.4,312.4 L253.2,312.6 L255.1,312.7 L257.0,312.8 L258.9,312.9 L260.8,313.0 L262.7,313.1 L264.6,313.2 L266.5,313.3 L268.3,313.3 L270.2,313.4 L272.1,313.4 L274.0,313.4 L275.9,313.5 L277.8,313.5 L279.7,313.5 L281.6,313.5 L283.4,313.5 L285.3,313.5 L287.2,313.6 L289.1,313.6 L291.0,313.6" fill="none" stroke="#624E8C" stroke-width="2.4" stroke-linejoin="round"/>
<path d="M55.0,256.5 L56.9,263.0 L58.8,267.2 L60.7,270.1 L62.6,272.6 L64.4,274.8 L66.3,277.0 L68.2,279.2 L70.1,281.3 L72.0,283.5 L73.9,285.5 L75.8,287.2 L77.7,288.5 L79.5,289.3 L81.4,289.7 L83.3,289.5 L85.2,289.0 L87.1,288.2 L89.0,287.1 L90.9,286.0 L92.8,285.0 L94.6,284.2 L96.5,283.6 L98.4,283.4 L100.3,283.6 L102.2,284.1 L104.1,284.8 L106.0,285.9 L107.9,287.2 L109.8,288.7 L111.6,290.4 L113.5,292.2 L115.4,294.0 L117.3,295.7 L119.2,297.3 L121.1,298.8 L123.0,300.0 L124.9,301.1 L126.7,302.1 L128.6,302.9 L130.5,303.6 L132.4,304.1 L134.3,304.6 L136.2,305.0 L138.1,305.3 L140.0,305.5 L141.8,305.7 L143.7,305.8 L145.6,305.9 L147.5,306.0 L149.4,306.1 L151.3,306.1 L153.2,306.1 L155.1,306.2 L157.0,306.2 L158.8,306.2 L160.7,306.2 L162.6,306.2 L164.5,306.2 L166.4,306.2 L168.3,306.2 L170.2,306.2 L172.1,306.2 L173.9,306.2 L175.8,306.2 L177.7,306.3 L179.6,306.3 L181.5,306.3 L183.4,306.3 L185.3,306.3 L187.2,306.3 L189.0,306.3 L190.9,306.3 L192.8,306.4 L194.7,306.4 L196.6,306.4 L198.5,306.5 L200.4,306.5 L202.3,306.6 L204.2,306.6 L206.0,306.7 L207.9,306.8 L209.8,306.9 L211.7,307.0 L213.6,307.1 L215.5,307.3 L217.4,307.5 L219.3,307.7 L221.1,307.9 L223.0,308.1 L224.9,308.4 L226.8,308.7 L228.7,309.0 L230.6,309.3 L232.5,309.6 L234.4,309.9 L236.2,310.3 L238.1,310.6 L240.0,310.9 L241.9,311.2 L243.8,311.5 L245.7,311.7 L247.6,312.0 L249.5,312.2 L251.4,312.4 L253.2,312.6 L255.1,312.7 L257.0,312.8 L258.9,313.0 L260.8,313.1 L262.7,313.1 L264.6,313.2 L266.5,313.3 L268.3,313.3 L270.2,313.4 L272.1,313.4 L274.0,313.5 L275.9,313.5 L277.8,313.5 L279.7,313.5 L281.6,313.5 L283.4,313.6 L285.3,313.6 L287.2,313.6 L289.1,313.6 L291.0,313.6" fill="none" stroke="#2E8399" stroke-width="2.4" stroke-linejoin="round"/>
<path d="M55.0,256.7 L56.9,263.6 L58.8,268.0 L60.7,271.1 L62.6,273.6 L64.4,275.8 L66.3,278.0 L68.2,280.1 L70.1,282.2 L72.0,284.2 L73.9,286.0 L75.8,287.6 L77.7,288.7 L79.5,289.4 L81.4,289.6 L83.3,289.4 L85.2,288.7 L87.1,287.8 L89.0,286.7 L90.9,285.5 L92.8,284.5 L94.6,283.6 L96.5,283.0 L98.4,282.8 L100.3,283.0 L102.2,283.4 L104.1,284.2 L106.0,285.3 L107.9,286.6 L109.8,288.1 L111.6,289.8 L113.5,291.6 L115.4,293.5 L117.3,295.2 L119.2,296.9 L121.1,298.3 L123.0,299.7 L124.9,300.8 L126.7,301.8 L128.6,302.7 L130.5,303.4 L132.4,304.0 L134.3,304.4 L136.2,304.8 L138.1,305.1 L140.0,305.4 L141.8,305.6 L143.7,305.7 L145.6,305.8 L147.5,305.9 L149.4,306.0 L151.3,306.0 L153.2,306.1 L155.1,306.1 L157.0,306.1 L158.8,306.1 L160.7,306.1 L162.6,306.1 L164.5,306.1 L166.4,306.1 L168.3,306.2 L170.2,306.2 L172.1,306.2 L173.9,306.2 L175.8,306.2 L177.7,306.2 L179.6,306.2 L181.5,306.2 L183.4,306.2 L185.3,306.2 L187.2,306.2 L189.0,306.3 L190.9,306.3 L192.8,306.3 L194.7,306.3 L196.6,306.4 L198.5,306.4 L200.4,306.4 L202.3,306.5 L204.2,306.6 L206.0,306.6 L207.9,306.7 L209.8,306.8 L211.7,307.0 L213.6,307.1 L215.5,307.2 L217.4,307.4 L219.3,307.6 L221.1,307.8 L223.0,308.1 L224.9,308.3 L226.8,308.6 L228.7,308.9 L230.6,309.2 L232.5,309.6 L234.4,309.9 L236.2,310.2 L238.1,310.6 L240.0,310.9 L241.9,311.2 L243.8,311.5 L245.7,311.7 L247.6,312.0 L249.5,312.2 L251.4,312.4 L253.2,312.6 L255.1,312.7 L257.0,312.8 L258.9,313.0 L260.8,313.1 L262.7,313.2 L264.6,313.2 L266.5,313.3 L268.3,313.3 L270.2,313.4 L272.1,313.4 L274.0,313.5 L275.9,313.5 L277.8,313.5 L279.7,313.5 L281.6,313.6 L283.4,313.6 L285.3,313.6 L287.2,313.6 L289.1,313.6 L291.0,313.6" fill="none" stroke="#D67D35" stroke-width="2.4" stroke-linejoin="round"/>
<path d="M55.0,257.0 L56.9,264.2 L58.8,268.8 L60.7,272.0 L62.6,274.6 L64.4,276.8 L66.3,279.0 L68.2,281.0 L70.1,283.0 L72.0,284.9 L73.9,286.6 L75.8,288.0 L77.7,289.0 L79.5,289.5 L81.4,289.6 L83.3,289.2 L85.2,288.5 L87.1,287.4 L89.0,286.3 L90.9,285.0 L92.8,283.9 L94.6,283.0 L96.5,282.4 L98.4,282.2 L100.3,282.3 L102.2,282.8 L104.1,283.6 L106.0,284.7 L107.9,286.0 L109.8,287.6 L111.6,289.3 L113.5,291.1 L115.4,293.0 L117.3,294.7 L119.2,296.4 L121.1,297.9 L123.0,299.3 L124.9,300.5 L126.7,301.5 L128.6,302.4 L130.5,303.1 L132.4,303.8 L134.3,304.3 L136.2,304.7 L138.1,305.0 L140.0,305.3 L141.8,305.5 L143.7,305.6 L145.6,305.8 L147.5,305.8 L149.4,305.9 L151.3,306.0 L153.2,306.0 L155.1,306.0 L157.0,306.0 L158.8,306.0 L160.7,306.1 L162.6,306.1 L164.5,306.1 L166.4,306.1 L168.3,306.1 L170.2,306.1 L172.1,306.1 L173.9,306.1 L175.8,306.1 L177.7,306.1 L179.6,306.1 L181.5,306.1 L183.4,306.1 L185.3,306.1 L187.2,306.2 L189.0,306.2 L190.9,306.2 L192.8,306.2 L194.7,306.3 L196.6,306.3 L198.5,306.3 L200.4,306.4 L202.3,306.4 L204.2,306.5 L206.0,306.6 L207.9,306.7 L209.8,306.8 L211.7,306.9 L213.6,307.0 L215.5,307.2 L217.4,307.4 L219.3,307.6 L221.1,307.8 L223.0,308.0 L224.9,308.3 L226.8,308.6 L228.7,308.9 L230.6,309.2 L232.5,309.5 L234.4,309.9 L236.2,310.2 L238.1,310.5 L240.0,310.9 L241.9,311.2 L243.8,311.4 L245.7,311.7 L247.6,312.0 L249.5,312.2 L251.4,312.4 L253.2,312.6 L255.1,312.7 L257.0,312.8 L258.9,313.0 L260.8,313.1 L262.7,313.2 L264.6,313.2 L266.5,313.3 L268.3,313.4 L270.2,313.4 L272.1,313.4 L274.0,313.5 L275.9,313.5 L277.8,313.5 L279.7,313.6 L281.6,313.6 L283.4,313.6 L285.3,313.6 L287.2,313.6 L289.1,313.6 L291.0,313.6" fill="none" stroke="#3F6EAA" stroke-width="2.4" stroke-linejoin="round"/>
<path d="M55.0,257.2 L56.9,264.9 L58.8,269.6 L60.7,272.9 L62.6,275.6 L64.4,277.8 L66.3,279.9 L68.2,281.9 L70.1,283.8 L72.0,285.6 L73.9,287.1 L75.8,288.4 L77.7,289.2 L79.5,289.6 L81.4,289.5 L83.3,289.0 L85.2,288.2 L87.1,287.1 L89.0,285.8 L90.9,284.5 L92.8,283.4 L94.6,282.4 L96.5,281.8 L98.4,281.5 L100.3,281.7 L102.2,282.2 L104.1,283.0 L106.0,284.1 L107.9,285.4 L109.8,287.0 L111.6,288.7 L113.5,290.6 L115.4,292.4 L117.3,294.3 L119.2,296.0 L121.1,297.5 L123.0,298.9 L124.9,300.2 L126.7,301.2 L128.6,302.2 L130.5,302.9 L132.4,303.6 L134.3,304.1 L136.2,304.5 L138.1,304.9 L140.0,305.2 L141.8,305.4 L143.7,305.5 L145.6,305.7 L147.5,305.8 L149.4,305.8 L151.3,305.9 L153.2,305.9 L155.1,305.9 L157.0,306.0 L158.8,306.0 L160.7,306.0 L162.6,306.0 L164.5,306.0 L166.4,306.0 L168.3,306.0 L170.2,306.0 L172.1,306.0 L173.9,306.0 L175.8,306.0 L177.7,306.0 L179.6,306.0 L181.5,306.1 L183.4,306.1 L185.3,306.1 L187.2,306.1 L189.0,306.1 L190.9,306.1 L192.8,306.2 L194.7,306.2 L196.6,306.2 L198.5,306.3 L200.4,306.3 L202.3,306.4 L204.2,306.4 L206.0,306.5 L207.9,306.6 L209.8,306.7 L211.7,306.8 L213.6,307.0 L215.5,307.1 L217.4,307.3 L219.3,307.5 L221.1,307.7 L223.0,308.0 L224.9,308.3 L226.8,308.5 L228.7,308.9 L230.6,309.2 L232.5,309.5 L234.4,309.8 L236.2,310.2 L238.1,310.5 L240.0,310.8 L241.9,311.1 L243.8,311.4 L245.7,311.7 L247.6,311.9 L249.5,312.2 L251.4,312.4 L253.2,312.6 L255.1,312.7 L257.0,312.9 L258.9,313.0 L260.8,313.1 L262.7,313.2 L264.6,313.2 L266.5,313.3 L268.3,313.4 L270.2,313.4 L272.1,313.5 L274.0,313.5 L275.9,313.5 L277.8,313.6 L279.7,313.6 L281.6,313.6 L283.4,313.6 L285.3,313.6 L287.2,313.6 L289.1,313.6 L291.0,313.7" fill="none" stroke="#AC4542" stroke-width="2.4" stroke-linejoin="round"/>
<path d="M55.0,257.5 L56.9,265.5 L58.8,270.4 L60.7,273.9 L62.6,276.6 L64.4,278.8 L66.3,280.9 L68.2,282.8 L70.1,284.6 L72.0,286.2 L73.9,287.7 L75.8,288.8 L77.7,289.5 L79.5,289.7 L81.4,289.5 L83.3,288.9 L85.2,287.9 L87.1,286.7 L89.0,285.4 L90.9,284.0 L92.8,282.8 L94.6,281.8 L96.5,281.1 L98.4,280.9 L100.3,281.1 L102.2,281.5 L104.1,282.4 L106.0,283.5 L107.9,284.8 L109.8,286.4 L111.6,288.2 L113.5,290.1 L115.4,291.9 L117.3,293.8 L119.2,295.5 L121.1,297.1 L123.0,298.6 L124.9,299.8 L126.7,300.9 L128.6,301.9 L130.5,302.7 L132.4,303.4 L134.3,303.9 L136.2,304.4 L138.1,304.8 L140.0,305.1 L141.8,305.3 L143.7,305.4 L145.6,305.6 L147.5,305.7 L149.4,305.7 L151.3,305.8 L153.2,305.8 L155.1,305.9 L157.0,305.9 L158.8,305.9 L160.7,305.9 L162.6,305.9 L164.5,305.9 L166.4,305.9 L168.3,305.9 L170.2,305.9 L172.1,305.9 L173.9,305.9 L175.8,306.0 L177.7,306.0 L179.6,306.0 L181.5,306.0 L183.4,306.0 L185.3,306.0 L187.2,306.0 L189.0,306.0 L190.9,306.1 L192.8,306.1 L194.7,306.1 L196.6,306.2 L198.5,306.2 L200.4,306.3 L202.3,306.3 L204.2,306.4 L206.0,306.5 L207.9,306.6 L209.8,306.7 L211.7,306.8 L213.6,306.9 L215.5,307.1 L217.4,307.3 L219.3,307.5 L221.1,307.7 L223.0,308.0 L224.9,308.2 L226.8,308.5 L228.7,308.8 L230.6,309.1 L232.5,309.5 L234.4,309.8 L236.2,310.2 L238.1,310.5 L240.0,310.8 L241.9,311.1 L243.8,311.4 L245.7,311.7 L247.6,311.9 L249.5,312.2 L251.4,312.4 L253.2,312.6 L255.1,312.7 L257.0,312.9 L258.9,313.0 L260.8,313.1 L262.7,313.2 L264.6,313.3 L266.5,313.3 L268.3,313.4 L270.2,313.4 L272.1,313.5 L274.0,313.5 L275.9,313.5 L277.8,313.6 L279.7,313.6 L281.6,313.6 L283.4,313.6 L285.3,313.6 L287.2,313.7 L289.1,313.7 L291.0,313.7" fill="none" stroke="#8EAE52" stroke-width="2.4" stroke-linejoin="round"/>
<path d="M55.0,257.7 L56.9,266.1 L58.8,271.2 L60.7,274.8 L62.6,277.5 L64.4,279.8 L66.3,281.9 L68.2,283.7 L70.1,285.4 L72.0,286.9 L73.9,288.2 L75.8,289.1 L77.7,289.7 L79.5,289.8 L81.4,289.5 L83.3,288.7 L85.2,287.6 L87.1,286.3 L89.0,284.9 L90.9,283.5 L92.8,282.2 L94.6,281.2 L96.5,280.5 L98.4,280.2 L100.3,280.4 L102.2,280.9 L104.1,281.7 L106.0,282.9 L107.9,284.2 L109.8,285.9 L111.6,287.6 L113.5,289.5 L115.4,291.4 L117.3,293.3 L119.2,295.1 L121.1,296.7 L123.0,298.2 L124.9,299.5 L126.7,300.7 L128.6,301.7 L130.5,302.5 L132.4,303.2 L134.3,303.8 L136.2,304.3 L138.1,304.6 L140.0,304.9 L141.8,305.2 L143.7,305.4 L145.6,305.5 L147.5,305.6 L149.4,305.7 L151.3,305.7 L153.2,305.8 L155.1,305.8 L157.0,305.8 L158.8,305.8 L160.7,305.8 L162.6,305.8 L164.5,305.8 L166.4,305.9 L168.3,305.9 L170.2,305.9 L172.1,305.9 L173.9,305.9 L175.8,305.9 L177.7,305.9 L179.6,305.9 L181.5,305.9 L183.4,305.9 L185.3,305.9 L187.2,306.0 L189.0,306.0 L190.9,306.0 L192.8,306.0 L194.7,306.1 L196.6,306.1 L198.5,306.1 L200.4,306.2 L202.3,306.2 L204.2,306.3 L206.0,306.4 L207.9,306.5 L209.8,306.6 L211.7,306.7 L213.6,306.9 L215.5,307.0 L217.4,307.2 L219.3,307.4 L221.1,307.7 L223.0,307.9 L224.9,308.2 L226.8,308.5 L228.7,308.8 L230.6,309.1 L232.5,309.5 L234.4,309.8 L236.2,310.1 L238.1,310.5 L240.0,310.8 L241.9,311.1 L243.8,311.4 L245.7,311.7 L247.6,311.9 L249.5,312.2 L251.4,312.4 L253.2,312.5 L255.1,312.7 L257.0,312.9 L258.9,313.0 L260.8,313.1 L262.7,313.2 L264.6,313.3 L266.5,313.3 L268.3,313.4 L270.2,313.5 L272.1,313.5 L274.0,313.5 L275.9,313.6 L277.8,313.6 L279.7,313.6 L281.6,313.6 L283.4,313.7 L285.3,313.7 L287.2,313.7 L289.1,313.7 L291.0,313.7" fill="none" stroke="#6C5896" stroke-width="2.4" stroke-linejoin="round"/>
<path d="M55.0,258.0 L56.9,266.7 L58.8,272.0 L60.7,275.7 L62.6,278.5 L64.4,280.8 L66.3,282.9 L68.2,284.7 L70.1,286.3 L72.0,287.6 L73.9,288.8 L75.8,289.5 L77.7,289.9 L79.5,289.9 L81.4,289.4 L83.3,288.5 L85.2,287.4 L87.1,286.0 L89.0,284.5 L90.9,283.0 L92.8,281.7 L94.6,280.6 L96.5,279.9 L98.4,279.6 L100.3,279.8 L102.2,280.3 L104.1,281.1 L106.0,282.3 L107.9,283.7 L109.8,285.3 L111.6,287.1 L113.5,289.0 L115.4,290.9 L117.3,292.8 L119.2,294.6 L121.1,296.3 L123.0,297.8 L124.9,299.2 L126.7,300.4 L128.6,301.4 L130.5,302.3 L132.4,303.0 L134.3,303.6 L136.2,304.1 L138.1,304.5 L140.0,304.8 L141.8,305.1 L143.7,305.3 L145.6,305.4 L147.5,305.5 L149.4,305.6 L151.3,305.6 L153.2,305.7 L155.1,305.7 L157.0,305.7 L158.8,305.7 L160.7,305.8 L162.6,305.8 L164.5,305.8 L166.4,305.8 L168.3,305.8 L170.2,305.8 L172.1,305.8 L173.9,305.8 L175.8,305.8 L177.7,305.8 L179.6,305.8 L181.5,305.8 L183.4,305.8 L185.3,305.9 L187.2,305.9 L189.0,305.9 L190.9,305.9 L192.8,306.0 L194.7,306.0 L196.6,306.0 L198.5,306.1 L200.4,306.1 L202.3,306.2 L204.2,306.3 L206.0,306.3 L207.9,306.4 L209.8,306.5 L211.7,306.7 L213.6,306.8 L215.5,307.0 L217.4,307.2 L219.3,307.4 L221.1,307.6 L223.0,307.9 L224.9,308.1 L226.8,308.4 L228.7,308.8 L230.6,309.1 L232.5,309.4 L234.4,309.8 L236.2,310.1 L238.1,310.4 L240.0,310.8 L241.9,311.1 L243.8,311.4 L245.7,311.7 L247.6,311.9 L249.5,312.2 L251.4,312.4 L253.2,312.5 L255.1,312.7 L257.0,312.9 L258.9,313.0 L260.8,313.1 L262.7,313.2 L264.6,313.3 L266.5,313.4 L268.3,313.4 L270.2,313.5 L272.1,313.5 L274.0,313.5 L275.9,313.6 L277.8,313.6 L279.7,313.6 L281.6,313.7 L283.4,313.7 L285.3,313.7 L287.2,313.7 L289.1,313.7 L291.0,313.7" fill="none" stroke="#3590A5" stroke-width="2.4" stroke-linejoin="round"/>
<path d="M55.0,258.2 L56.9,267.3 L58.8,272.9 L60.7,276.6 L62.6,279.5 L64.4,281.8 L66.3,283.8 L68.2,285.6 L70.1,287.1 L72.0,288.3 L73.9,289.3 L75.8,289.9 L77.7,290.2 L79.5,290.0 L81.4,289.4 L83.3,288.4 L85.2,287.1 L87.1,285.6 L89.0,284.0 L90.9,282.5 L92.8,281.1 L94.6,280.0 L96.5,279.3 L98.4,279.0 L100.3,279.1 L102.2,279.7 L104.1,280.5 L106.0,281.6 L107.9,283.1 L109.8,284.7 L111.6,286.5 L113.5,288.5 L115.4,290.4 L117.3,292.4 L119.2,294.2 L121.1,295.9 L123.0,297.5 L124.9,298.9 L126.7,300.1 L128.6,301.1 L130.5,302.1 L132.4,302.8 L134.3,303.5 L136.2,304.0 L138.1,304.4 L140.0,304.7 L141.8,305.0 L143.7,305.2 L145.6,305.3 L147.5,305.4 L149.4,305.5 L151.3,305.6 L153.2,305.6 L155.1,305.6 L157.0,305.7 L158.8,305.7 L160.7,305.7 L162.6,305.7 L164.5,305.7 L166.4,305.7 L168.3,305.7 L170.2,305.7 L172.1,305.7 L173.9,305.7 L175.8,305.7 L177.7,305.7 L179.6,305.8 L181.5,305.8 L183.4,305.8 L185.3,305.8 L187.2,305.8 L189.0,305.8 L190.9,305.9 L192.8,305.9 L194.7,305.9 L196.6,306.0 L198.5,306.0 L200.4,306.1 L202.3,306.1 L204.2,306.2 L206.0,306.3 L207.9,306.4 L209.8,306.5 L211.7,306.6 L213.6,306.8 L215.5,306.9 L217.4,307.1 L219.3,307.3 L221.1,307.6 L223.0,307.8 L224.9,308.1 L226.8,308.4 L228.7,308.7 L230.6,309.1 L232.5,309.4 L234.4,309.7 L236.2,310.1 L238.1,310.4 L240.0,310.8 L241.9,311.1 L243.8,311.4 L245.7,311.7 L247.6,311.9 L249.5,312.1 L251.4,312.4 L253.2,312.5 L255.1,312.7 L257.0,312.9 L258.9,313.0 L260.8,313.1 L262.7,313.2 L264.6,313.3 L266.5,313.4 L268.3,313.4 L270.2,313.5 L272.1,313.5 L274.0,313.6 L275.9,313.6 L277.8,313.6 L279.7,313.7 L281.6,313.7 L283.4,313.7 L285.3,313.7 L287.2,313.7 L289.1,313.7 L291.0,313.7" fill="none" stroke="#E08A41" stroke-width="2.4" stroke-linejoin="round"/>
<path d="M55.0,260.6 L56.9,271.8 L58.8,278.6 L60.7,283.1 L62.6,286.3 L64.4,288.7 L66.3,290.6 L68.2,291.9 L70.1,292.8 L72.0,293.4 L73.9,293.5 L75.8,293.2 L77.7,292.4 L79.5,291.4 L81.4,289.9 L83.3,288.2 L85.2,286.3 L87.1,284.3 L89.0,282.3 L90.9,280.3 L92.8,278.7 L94.6,277.3 L96.5,276.4 L98.4,276.0 L100.3,276.2 L102.2,276.7 L104.1,277.6 L106.0,278.9 L107.9,280.4 L109.8,282.2 L111.6,284.1 L113.5,286.2 L115.4,288.3 L117.3,290.4 L119.2,292.4 L121.1,294.3 L123.0,296.1 L124.9,297.8 L126.7,299.2 L128.6,300.5 L130.5,301.6 L132.4,302.6 L134.3,303.3 L136.2,304.0 L138.1,304.5 L140.0,304.9 L141.8,305.2 L143.7,305.4 L145.6,305.6 L147.5,305.8 L149.4,305.9 L151.3,305.9 L153.2,306.0 L155.1,306.0 L157.0,306.1 L158.8,306.1 L160.7,306.1 L162.6,306.1 L164.5,306.1 L166.4,306.1 L168.3,306.1 L170.2,306.1 L172.1,306.2 L173.9,306.2 L175.8,306.2 L177.7,306.2 L179.6,306.2 L181.5,306.2 L183.4,306.2 L185.3,306.2 L187.2,306.3 L189.0,306.3 L190.9,306.3 L192.8,306.3 L194.7,306.4 L196.6,306.4 L198.5,306.5 L200.4,306.5 L202.3,306.6 L204.2,306.7 L206.0,306.8 L207.9,306.9 L209.8,307.0 L211.7,307.2 L213.6,307.3 L215.5,307.5 L217.4,307.7 L219.3,307.9 L221.1,308.2 L223.0,308.5 L224.9,308.7 L226.8,309.1 L228.7,309.4 L230.6,309.7 L232.5,310.1 L234.4,310.5 L236.2,310.8 L238.1,311.2 L240.0,311.5 L241.9,311.8 L243.8,312.2 L245.7,312.5 L247.6,312.7 L249.5,313.0 L251.4,313.2 L253.2,313.4 L255.1,313.6 L257.0,313.8 L258.9,313.9 L260.8,314.0 L262.7,314.1 L264.6,314.2 L266.5,314.3 L268.3,314.4 L270.2,314.4 L272.1,314.5 L274.0,314.5 L275.9,314.6 L277.8,314.6 L279.7,314.6 L281.6,314.7 L283.4,314.7 L285.3,314.7 L287.2,314.7 L289.1,314.7 L291.0,314.7" fill="none" stroke="#F0AC72" stroke-width="2.4" stroke-linejoin="round"/>
<path d="M55.0,259.9 L56.9,270.8 L58.8,277.3 L60.7,281.7 L62.6,284.9 L64.4,287.3 L66.3,289.1 L68.2,290.6 L70.1,291.6 L72.0,292.2 L73.9,292.5 L75.8,292.3 L77.7,291.8 L79.5,290.8 L81.4,289.5 L83.3,288.0 L85.2,286.2 L87.1,284.2 L89.0,282.3 L90.9,280.4 L92.8,278.8 L94.6,277.5 L96.5,276.6 L98.4,276.2 L100.3,276.4 L102.2,276.9 L104.1,277.8 L106.0,279.0 L107.9,280.6 L109.8,282.3 L111.6,284.2 L113.5,286.2 L115.4,288.3 L117.3,290.4 L119.2,292.4 L121.1,294.3 L123.0,296.1 L124.9,297.6 L126.7,299.1 L128.6,300.3 L130.5,301.4 L132.4,302.3 L134.3,303.0 L136.2,303.7 L138.1,304.2 L140.0,304.6 L141.8,304.9 L143.7,305.1 L145.6,305.3 L147.5,305.4 L149.4,305.5 L151.3,305.6 L153.2,305.6 L155.1,305.7 L157.0,305.7 L158.8,305.7 L160.7,305.7 L162.6,305.7 L164.5,305.7 L166.4,305.8 L168.3,305.8 L170.2,305.8 L172.1,305.8 L173.9,305.8 L175.8,305.8 L177.7,305.8 L179.6,305.8 L181.5,305.8 L183.4,305.8 L185.3,305.9 L187.2,305.9 L189.0,305.9 L190.9,305.9 L192.8,306.0 L194.7,306.0 L196.6,306.0 L198.5,306.1 L200.4,306.2 L202.3,306.2 L204.2,306.3 L206.0,306.4 L207.9,306.5 L209.8,306.6 L211.7,306.8 L213.6,306.9 L215.5,307.1 L217.4,307.3 L219.3,307.5 L221.1,307.8 L223.0,308.0 L224.9,308.3 L226.8,308.6 L228.7,309.0 L230.6,309.3 L232.5,309.7 L234.4,310.0 L236.2,310.4 L238.1,310.7 L240.0,311.1 L241.9,311.4 L243.8,311.7 L245.7,312.0 L247.6,312.3 L249.5,312.5 L251.4,312.8 L253.2,313.0 L255.1,313.1 L257.0,313.3 L258.9,313.4 L260.8,313.6 L262.7,313.7 L264.6,313.8 L266.5,313.8 L268.3,313.9 L270.2,314.0 L272.1,314.0 L274.0,314.1 L275.9,314.1 L277.8,314.1 L279.7,314.2 L281.6,314.2 L283.4,314.2 L285.3,314.2 L287.2,314.2 L289.1,314.2 L291.0,314.3" fill="none" stroke="#7FBDD0" stroke-width="2.4" stroke-linejoin="round"/>
<path d="M55.0,259.3 L56.9,269.1 L58.8,275.0 L60.7,279.1 L62.6,282.0 L64.4,284.4 L66.3,286.3 L68.2,288.0 L70.1,289.3 L72.0,290.3 L73.9,291.0 L75.8,291.3 L77.7,291.2 L79.5,290.7 L81.4,289.8 L83.3,288.6 L85.2,287.1 L87.1,285.5 L89.0,283.7 L90.9,282.1 L92.8,280.6 L94.6,279.4 L96.5,278.6 L98.4,278.3 L100.3,278.4 L102.2,279.0 L104.1,279.8 L106.0,281.0 L107.9,282.5 L109.8,284.1 L111.6,286.0 L113.5,288.0 L115.4,290.0 L117.3,292.0 L119.2,293.9 L121.1,295.7 L123.0,297.3 L124.9,298.8 L126.7,300.1 L128.6,301.2 L130.5,302.2 L132.4,303.0 L134.3,303.7 L136.2,304.2 L138.1,304.7 L140.0,305.0 L141.8,305.3 L143.7,305.5 L145.6,305.7 L147.5,305.8 L149.4,305.9 L151.3,306.0 L153.2,306.0 L155.1,306.0 L157.0,306.1 L158.8,306.1 L160.7,306.1 L162.6,306.1 L164.5,306.1 L166.4,306.1 L168.3,306.1 L170.2,306.1 L172.1,306.1 L173.9,306.1 L175.8,306.2 L177.7,306.2 L179.6,306.2 L181.5,306.2 L183.4,306.2 L185.3,306.2 L187.2,306.2 L189.0,306.3 L190.9,306.3 L192.8,306.3 L194.7,306.3 L196.6,306.4 L198.5,306.4 L200.4,306.5 L202.3,306.6 L204.2,306.6 L206.0,306.7 L207.9,306.8 L209.8,306.9 L211.7,307.1 L213.6,307.2 L215.5,307.4 L217.4,307.6 L219.3,307.8 L221.1,308.0 L223.0,308.3 L224.9,308.6 L226.8,308.9 L228.7,309.2 L230.6,309.6 L232.5,309.9 L234.4,310.3 L236.2,310.6 L238.1,310.9 L240.0,311.3 L241.9,311.6 L243.8,311.9 L245.7,312.2 L247.6,312.5 L249.5,312.7 L251.4,312.9 L253.2,313.1 L255.1,313.3 L257.0,313.4 L258.9,313.6 L260.8,313.7 L262.7,313.8 L264.6,313.9 L266.5,313.9 L268.3,314.0 L270.2,314.1 L272.1,314.1 L274.0,314.2 L275.9,314.2 L277.8,314.2 L279.7,314.2 L281.6,314.3 L283.4,314.3 L285.3,314.3 L287.2,314.3 L289.1,314.3 L291.0,314.3" fill="none" stroke="#C8736C" stroke-width="2.4" stroke-linejoin="round"/>
<path d="M55.0,259.1 L56.9,269.3 L58.8,275.5 L60.7,279.6 L62.6,282.7 L64.4,285.0 L66.3,287.0 L68.2,288.5 L70.1,289.7 L72.0,290.6 L73.9,291.1 L75.8,291.3 L77.7,291.1 L79.5,290.4 L81.4,289.4 L83.3,288.1 L85.2,286.5 L87.1,284.7 L89.0,282.9 L90.9,281.2 L92.8,279.7 L94.6,278.4 L96.5,277.6 L98.4,277.3 L100.3,277.4 L102.2,278.0 L104.1,278.8 L106.0,280.0 L107.9,281.5 L109.8,283.2 L111.6,285.1 L113.5,287.1 L115.4,289.1 L117.3,291.1 L119.2,293.1 L121.1,294.9 L123.0,296.6 L124.9,298.1 L126.7,299.4 L128.6,300.6 L130.5,301.6 L132.4,302.4 L134.3,303.2 L136.2,303.7 L138.1,304.2 L140.0,304.6 L141.8,304.8 L143.7,305.1 L145.6,305.2 L147.5,305.4 L149.4,305.4 L151.3,305.5 L153.2,305.6 L155.1,305.6 L157.0,305.6 L158.8,305.6 L160.7,305.7 L162.6,305.7 L164.5,305.7 L166.4,305.7 L168.3,305.7 L170.2,305.7 L172.1,305.7 L173.9,305.7 L175.8,305.7 L177.7,305.7 L179.6,305.7 L181.5,305.7 L183.4,305.8 L185.3,305.8 L187.2,305.8 L189.0,305.8 L190.9,305.8 L192.8,305.9 L194.7,305.9 L196.6,306.0 L198.5,306.0 L200.4,306.1 L202.3,306.1 L204.2,306.2 L206.0,306.3 L207.9,306.4 L209.8,306.5 L211.7,306.6 L213.6,306.8 L215.5,307.0 L217.4,307.2 L219.3,307.4 L221.1,307.6 L223.0,307.9 L224.9,308.2 L226.8,308.5 L228.7,308.8 L230.6,309.2 L232.5,309.5 L234.4,309.9 L236.2,310.2 L238.1,310.6 L240.0,310.9 L241.9,311.2 L243.8,311.5 L245.7,311.8 L247.6,312.1 L249.5,312.3 L251.4,312.5 L253.2,312.7 L255.1,312.9 L257.0,313.1 L258.9,313.2 L260.8,313.3 L262.7,313.4 L264.6,313.5 L266.5,313.6 L268.3,313.7 L270.2,313.7 L272.1,313.8 L274.0,313.8 L275.9,313.8 L277.8,313.9 L279.7,313.9 L281.6,313.9 L283.4,313.9 L285.3,314.0 L287.2,314.0 L289.1,314.0 L291.0,314.0" fill="none" stroke="#A9C582" stroke-width="2.4" stroke-linejoin="round"/>
<path d="M55.0,258.5 L56.9,267.9 L58.8,273.7 L60.7,277.6 L62.6,280.5 L64.4,282.8 L66.3,284.8 L68.2,286.5 L70.1,287.9 L72.0,289.0 L73.9,289.9 L75.8,290.3 L77.7,290.4 L79.5,290.1 L81.4,289.3 L83.3,288.2 L85.2,286.8 L87.1,285.3 L89.0,283.6 L90.9,282.0 L92.8,280.6 L94.6,279.4 L96.5,278.7 L98.4,278.3 L100.3,278.5 L102.2,279.0 L104.1,279.9 L106.0,281.0 L107.9,282.5 L109.8,284.1 L111.6,286.0 L113.5,287.9 L115.4,289.9 L117.3,291.9 L119.2,293.8 L121.1,295.5 L123.0,297.1 L124.9,298.5 L126.7,299.8 L128.6,300.9 L130.5,301.8 L132.4,302.6 L134.3,303.3 L136.2,303.8 L138.1,304.3 L140.0,304.6 L141.8,304.9 L143.7,305.1 L145.6,305.2 L147.5,305.3 L149.4,305.4 L151.3,305.5 L153.2,305.5 L155.1,305.6 L157.0,305.6 L158.8,305.6 L160.7,305.6 L162.6,305.6 L164.5,305.6 L166.4,305.6 L168.3,305.6 L170.2,305.6 L172.1,305.7 L173.9,305.7 L175.8,305.7 L177.7,305.7 L179.6,305.7 L181.5,305.7 L183.4,305.7 L185.3,305.7 L187.2,305.7 L189.0,305.8 L190.9,305.8 L192.8,305.8 L194.7,305.8 L196.6,305.9 L198.5,305.9 L200.4,306.0 L202.3,306.1 L204.2,306.1 L206.0,306.2 L207.9,306.3 L209.8,306.4 L211.7,306.6 L213.6,306.7 L215.5,306.9 L217.4,307.1 L219.3,307.3 L221.1,307.5 L223.0,307.8 L224.9,308.1 L226.8,308.4 L228.7,308.7 L230.6,309.0 L232.5,309.4 L234.4,309.7 L236.2,310.1 L238.1,310.4 L240.0,310.7 L241.9,311.1 L243.8,311.4 L245.7,311.6 L247.6,311.9 L249.5,312.1 L251.4,312.4 L253.2,312.5 L255.1,312.7 L257.0,312.9 L258.9,313.0 L260.8,313.1 L262.7,313.2 L264.6,313.3 L266.5,313.4 L268.3,313.4 L270.2,313.5 L272.1,313.5 L274.0,313.6 L275.9,313.6 L277.8,313.6 L279.7,313.7 L281.6,313.7 L283.4,313.7 L285.3,313.7 L287.2,313.7 L289.1,313.7 L291.0,313.8" fill="none" stroke="#9AA6CC" stroke-width="2.4" stroke-linejoin="round"/>
<path d="M55.0,258.8 L56.9,269.3 L58.8,275.7 L60.7,280.0 L62.6,283.1 L64.4,285.4 L66.3,287.3 L68.2,288.8 L70.1,289.9 L72.0,290.7 L73.9,291.1 L75.8,291.1 L77.7,290.7 L79.5,289.9 L81.4,288.8 L83.3,287.3 L85.2,285.6 L87.1,283.8 L89.0,281.9 L90.9,280.1 L92.8,278.5 L94.6,277.2 L96.5,276.4 L98.4,276.0 L100.3,276.2 L102.2,276.7 L104.1,277.6 L106.0,278.8 L107.9,280.3 L109.8,282.0 L111.6,283.9 L113.5,285.9 L115.4,288.0 L117.3,290.0 L119.2,292.0 L121.1,293.9 L123.0,295.6 L124.9,297.2 L126.7,298.5 L128.6,299.7 L130.5,300.8 L132.4,301.7 L134.3,302.4 L136.2,303.0 L138.1,303.5 L140.0,303.8 L141.8,304.1 L143.7,304.4 L145.6,304.5 L147.5,304.7 L149.4,304.8 L151.3,304.8 L153.2,304.9 L155.1,304.9 L157.0,304.9 L158.8,305.0 L160.7,305.0 L162.6,305.0 L164.5,305.0 L166.4,305.0 L168.3,305.0 L170.2,305.0 L172.1,305.0 L173.9,305.0 L175.8,305.0 L177.7,305.1 L179.6,305.1 L181.5,305.1 L183.4,305.1 L185.3,305.1 L187.2,305.1 L189.0,305.1 L190.9,305.2 L192.8,305.2 L194.7,305.2 L196.6,305.3 L198.5,305.3 L200.4,305.4 L202.3,305.5 L204.2,305.5 L206.0,305.6 L207.9,305.7 L209.8,305.9 L211.7,306.0 L213.6,306.2 L215.5,306.3 L217.4,306.5 L219.3,306.8 L221.1,307.0 L223.0,307.3 L224.9,307.6 L226.8,307.9 L228.7,308.2 L230.6,308.5 L232.5,308.9 L234.4,309.2 L236.2,309.6 L238.1,309.9 L240.0,310.3 L241.9,310.6 L243.8,310.9 L245.7,311.2 L247.6,311.5 L249.5,311.7 L251.4,311.9 L253.2,312.1 L255.1,312.3 L257.0,312.5 L258.9,312.6 L260.8,312.7 L262.7,312.8 L264.6,312.9 L266.5,313.0 L268.3,313.1 L270.2,313.1 L272.1,313.2 L274.0,313.2 L275.9,313.3 L277.8,313.3 L279.7,313.3 L281.6,313.3 L283.4,313.4 L285.3,313.4 L287.2,313.4 L289.1,313.4 L291.0,313.4" fill="none" stroke="#BDB5D3" stroke-width="2.4" stroke-linejoin="round"/>
<g stroke="#000" stroke-width="2" fill="none">
<line x1="55.0" y1="11.7" x2="55.0" y2="319"/>
<line x1="50" y1="315.0" x2="55.0" y2="315.0"/>
<line x1="50" y1="271.7" x2="55.0" y2="271.7"/>
<line x1="50" y1="228.4" x2="55.0" y2="228.4"/>
<line x1="50" y1="185.1" x2="55.0" y2="185.1"/>
<line x1="50" y1="141.8" x2="55.0" y2="141.8"/>
<line x1="50" y1="98.5" x2="55.0" y2="98.5"/>
<line x1="50" y1="55.2" x2="55.0" y2="55.2"/>
<line x1="50" y1="11.9" x2="55.0" y2="11.9"/>
</g>
<g font-family='"Liberation Serif", serif' font-weight="bold" font-size="15.8" fill="#000" text-anchor="end">
<text x="42.5" y="320.3">0</text>
<text x="42.5" y="277.0">0.2</text>
<text x="42.5" y="233.7">0.4</text>
<text x="42.5" y="190.4">0.6</text>
<text x="42.5" y="147.1">0.8</text>
<text x="42.5" y="103.8">1</text>
<text x="42.5" y="60.5">1.2</text>
<text x="42.5" y="17.2">1.4</text>
</g>
<g font-family='"Liberation Serif", serif' font-weight="bold" font-size="15.8" fill="#000" text-anchor="middle">
<text x="54.5" y="338">250</text>
<text x="101.7" y="338">300</text>
<text x="148.9" y="338">350</text>
<text x="196.1" y="338">400</text>
<text x="243.3" y="338">450</text>
<text x="290.5" y="338">500</text>
</g>
<text x="110.2" y="361" font-family='"Liberation Serif", serif' font-weight="bold" font-size="16.5">Wavelength (nm)</text>
<text transform="translate(12.8,213.3) rotate(-90)" font-family='"Liberation Serif", serif' font-weight="bold" font-size="16.5">Absorbance</text>
<text x="3.5" y="14" font-family='"Liberation Sans", sans-serif' font-weight="bold" font-size="17">a</text>
<g font-family='"Liberation Serif", serif' font-size="12" letter-spacing="0.3" fill="#000" stroke="#000" stroke-width="0.15">
<line x1="307" y1="4.2" x2="335.5" y2="4.2" stroke="#33598C" stroke-width="2.6"/>
<text x="337" y="9.0">0 min</text>
<line x1="307" y1="16.2" x2="335.5" y2="16.2" stroke="#923734" stroke-width="2.6"/>
<text x="337" y="21.0">1 min</text>
<line x1="307" y1="28.1" x2="335.5" y2="28.1" stroke="#718E3C" stroke-width="2.6"/>
<text x="337" y="32.9">2 min</text>
<line x1="307" y1="40.1" x2="335.5" y2="40.1" stroke="#4D3A73" stroke-width="2.6"/>
<text x="337" y="44.9">3 min</text>
<line x1="307" y1="52.0" x2="335.5" y2="52.0" stroke="#2A7587" stroke-width="2.6"/>
<text x="337" y="56.8">4 min</text>
<line x1="307" y1="64.0" x2="335.5" y2="64.0" stroke="#B8692A" stroke-width="2.6"/>
<text x="337" y="68.8">5 min</text>
<line x1="307" y1="76.0" x2="335.5" y2="76.0" stroke="#335E95" stroke-width="2.6"/>
<text x="337" y="80.8">6 min</text>
<line x1="307" y1="87.9" x2="335.5" y2="87.9" stroke="#983A37" stroke-width="2.6"/>
<text x="337" y="92.7">7 min</text>
<line x1="307" y1="99.9" x2="335.5" y2="99.9" stroke="#78963F" stroke-width="2.6"/>
<text x="337" y="104.7">8 min</text>
<line x1="307" y1="111.8" x2="335.5" y2="111.8" stroke="#5A4680" stroke-width="2.6"/>
<text x="337" y="116.6">9 min</text>
<line x1="307" y1="123.8" x2="335.5" y2="123.8" stroke="#2E7F93" stroke-width="2.6"/>
<text x="337" y="128.6">10 min</text>
<line x1="307" y1="135.8" x2="335.5" y2="135.8" stroke="#C8702A" stroke-width="2.6"/>
<text x="337" y="140.6">11 min</text>
<line x1="307" y1="147.7" x2="335.5" y2="147.7" stroke="#3765A0" stroke-width="2.6"/>
<text x="337" y="152.5">12 min</text>
<line x1="307" y1="159.7" x2="335.5" y2="159.7" stroke="#A03E3B" stroke-width="2.6"/>
<text x="337" y="164.5">13 min</text>
<line x1="307" y1="171.6" x2="335.5" y2="171.6" stroke="#82A147" stroke-width="2.6"/>
<text x="337" y="176.4">14 min</text>
<line x1="307" y1="183.6" x2="335.5" y2="183.6" stroke="#624E8C" stroke-width="2.6"/>
<text x="337" y="188.4">15 min</text>
<line x1="307" y1="195.6" x2="335.5" y2="195.6" stroke="#2E8399" stroke-width="2.6"/>
<text x="337" y="200.4">16 min</text>
<line x1="307" y1="207.5" x2="335.5" y2="207.5" stroke="#D67D35" stroke-width="2.6"/>
<text x="337" y="212.3">17 min</text>
<line x1="307" y1="219.5" x2="335.5" y2="219.5" stroke="#3F6EAA" stroke-width="2.6"/>
<text x="337" y="224.3">18 min</text>
<line x1="307" y1="231.4" x2="335.5" y2="231.4" stroke="#AC4542" stroke-width="2.6"/>
<text x="337" y="236.2">19 min</text>
<line x1="307" y1="243.4" x2="335.5" y2="243.4" stroke="#8EAE52" stroke-width="2.6"/>
<text x="337" y="248.2">20 min</text>
<line x1="307" y1="255.4" x2="335.5" y2="255.4" stroke="#6C5896" stroke-width="2.6"/>
<text x="337" y="260.2">21 min</text>
<line x1="307" y1="267.3" x2="335.5" y2="267.3" stroke="#3590A5" stroke-width="2.6"/>
<text x="337" y="272.1">22 min</text>
<line x1="307" y1="279.3" x2="335.5" y2="279.3" stroke="#E08A41" stroke-width="2.6"/>
<text x="337" y="284.1">23 min</text>
<line x1="307" y1="291.2" x2="335.5" y2="291.2" stroke="#7B8CBE" stroke-width="2.6"/>
<text x="337" y="296.0">24 min</text>
<line x1="307" y1="303.2" x2="335.5" y2="303.2" stroke="#C8736C" stroke-width="2.6"/>
<text x="337" y="308.0">25 min</text>
<line x1="307" y1="315.2" x2="335.5" y2="315.2" stroke="#A9C582" stroke-width="2.6"/>
<text x="337" y="320.0">26 min</text>
<line x1="307" y1="327.1" x2="335.5" y2="327.1" stroke="#9A90B4" stroke-width="2.6"/>
<text x="337" y="331.9">27 min</text>
<line x1="307" y1="339.1" x2="335.5" y2="339.1" stroke="#7FBDD0" stroke-width="2.6"/>
<text x="337" y="343.9">28 min</text>
<line x1="307" y1="351.0" x2="335.5" y2="351.0" stroke="#F0AC72" stroke-width="2.6"/>
<text x="337" y="355.8">29 min</text>
</g>
<g stroke="#000" stroke-width="2" fill="none">
<line x1="458.0" y1="7.8" x2="458.0" y2="326"/>
<line x1="453" y1="321.5" x2="777.0" y2="321.5"/>
<line x1="453" y1="7.8" x2="458.0" y2="7.8"/>
<line x1="453" y1="47.0" x2="458.0" y2="47.0"/>
<line x1="453" y1="86.2" x2="458.0" y2="86.2"/>
<line x1="453" y1="125.4" x2="458.0" y2="125.4"/>
<line x1="453" y1="164.6" x2="458.0" y2="164.6"/>
<line x1="453" y1="203.8" x2="458.0" y2="203.8"/>
<line x1="453" y1="243.0" x2="458.0" y2="243.0"/>
<line x1="453" y1="282.2" x2="458.0" y2="282.2"/>
<line x1="453" y1="321.4" x2="458.0" y2="321.4"/>
<line x1="458.0" y1="321.5" x2="458.0" y2="326"/>
<line x1="521.6" y1="321.5" x2="521.6" y2="326"/>
<line x1="585.2" y1="321.5" x2="585.2" y2="326"/>
<line x1="648.8" y1="321.5" x2="648.8" y2="326"/>
<line x1="712.4" y1="321.5" x2="712.4" y2="326"/>
<line x1="776.0" y1="321.5" x2="776.0" y2="326"/>
</g>
<path d="M458.00,12.50 C459.77,12.50 465.07,12.50 468.60,12.50 C472.13,12.50 475.67,12.25 479.20,12.50 C482.73,12.75 486.27,12.30 489.80,14.00 C493.33,15.70 496.87,19.50 500.40,22.70 C503.93,25.90 507.47,29.68 511.00,33.20 C514.53,36.72 518.07,40.02 521.60,43.80 C525.13,47.58 528.67,52.22 532.20,55.90 C535.73,59.58 539.27,62.17 542.80,65.90 C546.33,69.63 549.87,72.85 553.40,78.30 C556.93,83.75 560.47,90.90 564.00,98.60 C567.53,106.30 571.07,114.13 574.60,124.50 C578.13,134.87 581.67,141.73 585.20,160.80 C588.73,179.87 592.27,217.95 595.80,238.90 C599.33,259.85 601.98,275.18 606.40,286.50 C610.82,297.82 617.00,302.07 622.30,306.80 C627.60,311.53 633.78,315.43 638.20,314.90 C642.62,314.37 645.27,304.58 648.80,303.60 C652.33,302.62 655.87,307.63 659.40,309.00 C662.93,310.37 666.47,312.70 670.00,311.80 C673.53,310.90 677.07,304.07 680.60,303.60 C684.13,303.13 687.67,307.63 691.20,309.00 C694.73,310.37 698.27,310.43 701.80,311.80 C705.33,313.17 708.87,317.20 712.40,317.20 C715.93,317.20 719.47,314.07 723.00,311.80 C726.53,309.53 730.07,303.60 733.60,303.60 C737.13,303.60 740.67,310.43 744.20,311.80 C747.73,313.17 751.27,310.90 754.80,311.80 C758.33,312.70 761.87,317.75 765.40,317.20 C768.93,316.65 774.23,309.95 776.00,308.50" fill="none" stroke="#B8433F" stroke-width="2.5" stroke-linejoin="round"/>
<rect x="453.00" y="7.50" width="10.0" height="10.0" fill="#B9433F"/>
<rect x="463.60" y="7.50" width="10.0" height="10.0" fill="#B9433F"/>
<rect x="474.20" y="7.50" width="10.0" height="10.0" fill="#B9433F"/>
<rect x="484.80" y="9.00" width="10.0" height="10.0" fill="#B9433F"/>
<rect x="495.40" y="17.70" width="10.0" height="10.0" fill="#B9433F"/>
<rect x="506.00" y="28.20" width="10.0" height="10.0" fill="#B9433F"/>
<rect x="516.60" y="38.80" width="10.0" height="10.0" fill="#B9433F"/>
<rect x="527.20" y="50.90" width="10.0" height="10.0" fill="#B9433F"/>
<rect x="537.80" y="60.90" width="10.0" height="10.0" fill="#B9433F"/>
<rect x="548.40" y="73.30" width="10.0" height="10.0" fill="#B9433F"/>
<rect x="559.00" y="93.60" width="10.0" height="10.0" fill="#B9433F"/>
<rect x="569.60" y="119.50" width="10.0" height="10.0" fill="#B9433F"/>
<rect x="580.20" y="155.80" width="10.0" height="10.0" fill="#B9433F"/>
<rect x="590.80" y="233.90" width="10.0" height="10.0" fill="#B9433F"/>
<rect x="601.40" y="281.50" width="10.0" height="10.0" fill="#B9433F"/>
<rect x="617.30" y="301.80" width="10.0" height="10.0" fill="#B9433F"/>
<rect x="633.20" y="309.90" width="10.0" height="10.0" fill="#B9433F"/>
<rect x="643.80" y="298.60" width="10.0" height="10.0" fill="#B9433F"/>
<rect x="654.40" y="304.00" width="10.0" height="10.0" fill="#B9433F"/>
<rect x="665.00" y="306.80" width="10.0" height="10.0" fill="#B9433F"/>
<rect x="675.60" y="298.60" width="10.0" height="10.0" fill="#B9433F"/>
<rect x="686.20" y="304.00" width="10.0" height="10.0" fill="#B9433F"/>
<rect x="696.80" y="306.80" width="10.0" height="10.0" fill="#B9433F"/>
<rect x="707.40" y="312.20" width="10.0" height="10.0" fill="#B9433F"/>
<rect x="718.00" y="306.80" width="10.0" height="10.0" fill="#B9433F"/>
<rect x="728.60" y="298.60" width="10.0" height="10.0" fill="#B9433F"/>
<rect x="739.20" y="306.80" width="10.0" height="10.0" fill="#B9433F"/>
<rect x="749.80" y="306.80" width="10.0" height="10.0" fill="#B9433F"/>
<rect x="760.40" y="312.20" width="10.0" height="10.0" fill="#B9433F"/>
<rect x="771.00" y="303.50" width="10.0" height="10.0" fill="#B9433F"/>
<path d="M458.00,7.80 C459.77,7.80 465.07,7.80 468.60,7.80 C472.13,7.80 475.67,7.68 479.20,7.80 C482.73,7.92 486.27,7.72 489.80,8.50 C493.33,9.28 496.87,9.87 500.40,12.50 C503.93,15.13 507.47,21.25 511.00,24.30 C514.53,27.35 518.07,27.28 521.60,30.80 C525.13,34.32 528.67,38.92 532.20,45.40 C535.73,51.88 539.27,65.20 542.80,69.70 C546.33,74.20 549.87,63.93 553.40,72.40 C556.93,80.87 560.47,104.57 564.00,120.50 C567.53,136.43 571.07,156.08 574.60,168.00 C578.13,179.92 581.67,183.00 585.20,192.00 C588.73,201.00 592.27,213.92 595.80,222.00 C599.33,230.08 602.87,236.33 606.40,240.50 C609.93,244.67 613.47,245.92 617.00,247.00 C620.53,248.08 624.07,246.87 627.60,247.00 C631.13,247.13 634.67,248.07 638.20,247.80 C641.73,247.53 645.27,245.50 648.80,245.40 C652.33,245.30 655.87,246.68 659.40,247.20 C662.93,247.72 666.47,248.80 670.00,248.50 C673.53,248.20 677.07,245.40 680.60,245.40 C684.13,245.40 687.67,248.32 691.20,248.50 C694.73,248.68 698.27,247.28 701.80,246.50 C705.33,245.72 708.87,243.68 712.40,243.80 C715.93,243.92 719.47,247.20 723.00,247.20 C726.53,247.20 730.07,243.58 733.60,243.80 C737.13,244.02 740.67,247.83 744.20,248.50 C747.73,249.17 751.27,248.58 754.80,247.80 C758.33,247.02 761.87,244.77 765.40,243.80 C768.93,242.83 774.23,242.30 776.00,242.00" fill="none" stroke="#8FB04E" stroke-width="2.5" stroke-linejoin="round"/>
<path d="M458.00,2.60 L463.20,13.00 L452.80,13.00Z" fill="#92B450"/>
<path d="M468.60,2.60 L473.80,13.00 L463.40,13.00Z" fill="#92B450"/>
<path d="M479.20,2.60 L484.40,13.00 L474.00,13.00Z" fill="#92B450"/>
<path d="M489.80,3.30 L495.00,13.70 L484.60,13.70Z" fill="#92B450"/>
<path d="M500.40,7.30 L505.60,17.70 L495.20,17.70Z" fill="#92B450"/>
<path d="M511.00,19.10 L516.20,29.50 L505.80,29.50Z" fill="#92B450"/>
<path d="M521.60,25.60 L526.80,36.00 L516.40,36.00Z" fill="#92B450"/>
<path d="M532.20,40.20 L537.40,50.60 L527.00,50.60Z" fill="#92B450"/>
<path d="M542.80,64.50 L548.00,74.90 L537.60,74.90Z" fill="#92B450"/>
<path d="M553.40,67.20 L558.60,77.60 L548.20,77.60Z" fill="#92B450"/>
<path d="M564.00,115.30 L569.20,125.70 L558.80,125.70Z" fill="#92B450"/>
<path d="M595.80,216.80 L601.00,227.20 L590.60,227.20Z" fill="#92B450"/>
<path d="M606.40,235.30 L611.60,245.70 L601.20,245.70Z" fill="#92B450"/>
<path d="M617.00,241.80 L622.20,252.20 L611.80,252.20Z" fill="#92B450"/>
<path d="M627.60,241.80 L632.80,252.20 L622.40,252.20Z" fill="#92B450"/>
<path d="M638.20,242.60 L643.40,253.00 L633.00,253.00Z" fill="#92B450"/>
<path d="M648.80,240.20 L654.00,250.60 L643.60,250.60Z" fill="#92B450"/>
<path d="M659.40,242.00 L664.60,252.40 L654.20,252.40Z" fill="#92B450"/>
<path d="M670.00,243.30 L675.20,253.70 L664.80,253.70Z" fill="#92B450"/>
<path d="M680.60,240.20 L685.80,250.60 L675.40,250.60Z" fill="#92B450"/>
<path d="M691.20,243.30 L696.40,253.70 L686.00,253.70Z" fill="#92B450"/>
<path d="M701.80,241.30 L707.00,251.70 L696.60,251.70Z" fill="#92B450"/>
<path d="M712.40,238.60 L717.60,249.00 L707.20,249.00Z" fill="#92B450"/>
<path d="M723.00,242.00 L728.20,252.40 L717.80,252.40Z" fill="#92B450"/>
<path d="M733.60,238.60 L738.80,249.00 L728.40,249.00Z" fill="#92B450"/>
<path d="M744.20,243.30 L749.40,253.70 L739.00,253.70Z" fill="#92B450"/>
<path d="M754.80,242.60 L760.00,253.00 L749.60,253.00Z" fill="#92B450"/>
<path d="M765.40,238.60 L770.60,249.00 L760.20,249.00Z" fill="#92B450"/>
<path d="M776.00,236.80 L781.20,247.20 L770.80,247.20Z" fill="#92B450"/>
<path d="M458.00,7.80 C459.77,9.13 465.07,13.18 468.60,15.80 C472.13,18.42 475.67,20.10 479.20,23.50 C482.73,26.90 486.27,30.42 489.80,36.20 C493.33,41.98 496.87,49.40 500.40,58.20 C503.93,67.00 507.47,75.80 511.00,89.00 C514.53,102.20 518.07,123.32 521.60,137.40 C525.13,151.48 528.67,166.27 532.20,173.50 C535.73,180.73 539.27,178.50 542.80,180.80 C546.33,183.10 549.87,185.40 553.40,187.30 C556.93,189.20 560.47,191.07 564.00,192.20 C567.53,193.33 571.07,193.98 574.60,194.10 C578.13,194.22 581.67,193.17 585.20,192.90 C588.73,192.63 592.27,192.42 595.80,192.50 C599.33,192.58 602.87,193.00 606.40,193.40 C609.93,193.80 613.47,194.75 617.00,194.90 C620.53,195.05 624.07,194.28 627.60,194.30 C631.13,194.32 634.67,195.00 638.20,195.00 C641.73,195.00 643.50,194.25 648.80,194.30 C654.10,194.35 664.70,195.38 670.00,195.30 C675.30,195.22 677.07,193.63 680.60,193.80 C684.13,193.97 687.67,195.97 691.20,196.30 C694.73,196.63 698.27,195.80 701.80,195.80 C705.33,195.80 708.87,196.22 712.40,196.30 C715.93,196.38 719.47,196.30 723.00,196.30 C726.53,196.30 730.07,196.20 733.60,196.30 C737.13,196.40 740.67,196.90 744.20,196.90 C747.73,196.90 751.27,196.40 754.80,196.30 C758.33,196.20 761.87,196.38 765.40,196.30 C768.93,196.22 774.23,195.88 776.00,195.80" fill="none" stroke="#3B6DAE" stroke-width="2.5" stroke-linejoin="round"/>
<path d="M458.00,2.60 L463.20,7.80 L458.00,13.00 L452.80,7.80Z" fill="#3F72B5"/>
<path d="M468.60,10.60 L473.80,15.80 L468.60,21.00 L463.40,15.80Z" fill="#3F72B5"/>
<path d="M479.20,18.30 L484.40,23.50 L479.20,28.70 L474.00,23.50Z" fill="#3F72B5"/>
<path d="M489.80,31.00 L495.00,36.20 L489.80,41.40 L484.60,36.20Z" fill="#3F72B5"/>
<path d="M500.40,53.00 L505.60,58.20 L500.40,63.40 L495.20,58.20Z" fill="#3F72B5"/>
<path d="M511.00,83.80 L516.20,89.00 L511.00,94.20 L505.80,89.00Z" fill="#3F72B5"/>
<path d="M521.60,132.20 L526.80,137.40 L521.60,142.60 L516.40,137.40Z" fill="#3F72B5"/>
<path d="M532.20,168.30 L537.40,173.50 L532.20,178.70 L527.00,173.50Z" fill="#3F72B5"/>
<path d="M542.80,175.60 L548.00,180.80 L542.80,186.00 L537.60,180.80Z" fill="#3F72B5"/>
<path d="M553.40,182.10 L558.60,187.30 L553.40,192.50 L548.20,187.30Z" fill="#3F72B5"/>
<path d="M564.00,187.00 L569.20,192.20 L564.00,197.40 L558.80,192.20Z" fill="#3F72B5"/>
<path d="M574.60,188.90 L579.80,194.10 L574.60,199.30 L569.40,194.10Z" fill="#3F72B5"/>
<path d="M585.20,187.70 L590.40,192.90 L585.20,198.10 L580.00,192.90Z" fill="#3F72B5"/>
<path d="M595.80,187.30 L601.00,192.50 L595.80,197.70 L590.60,192.50Z" fill="#3F72B5"/>
<path d="M606.40,188.20 L611.60,193.40 L606.40,198.60 L601.20,193.40Z" fill="#3F72B5"/>
<path d="M617.00,189.70 L622.20,194.90 L617.00,200.10 L611.80,194.90Z" fill="#3F72B5"/>
<path d="M627.60,189.10 L632.80,194.30 L627.60,199.50 L622.40,194.30Z" fill="#3F72B5"/>
<path d="M638.20,189.80 L643.40,195.00 L638.20,200.20 L633.00,195.00Z" fill="#3F72B5"/>
<path d="M648.80,189.10 L654.00,194.30 L648.80,199.50 L643.60,194.30Z" fill="#3F72B5"/>
<path d="M670.00,190.10 L675.20,195.30 L670.00,200.50 L664.80,195.30Z" fill="#3F72B5"/>
<path d="M680.60,188.60 L685.80,193.80 L680.60,199.00 L675.40,193.80Z" fill="#3F72B5"/>
<path d="M691.20,191.10 L696.40,196.30 L691.20,201.50 L686.00,196.30Z" fill="#3F72B5"/>
<path d="M701.80,190.60 L707.00,195.80 L701.80,201.00 L696.60,195.80Z" fill="#3F72B5"/>
<path d="M712.40,191.10 L717.60,196.30 L712.40,201.50 L707.20,196.30Z" fill="#3F72B5"/>
<path d="M723.00,191.10 L728.20,196.30 L723.00,201.50 L717.80,196.30Z" fill="#3F72B5"/>
<path d="M733.60,191.10 L738.80,196.30 L733.60,201.50 L728.40,196.30Z" fill="#3F72B5"/>
<path d="M744.20,191.70 L749.40,196.90 L744.20,202.10 L739.00,196.90Z" fill="#3F72B5"/>
<path d="M754.80,191.10 L760.00,196.30 L754.80,201.50 L749.60,196.30Z" fill="#3F72B5"/>
<path d="M765.40,191.10 L770.60,196.30 L765.40,201.50 L760.20,196.30Z" fill="#3F72B5"/>
<path d="M776.00,190.60 L781.20,195.80 L776.00,201.00 L770.80,195.80Z" fill="#3F72B5"/>
<path d="M458.00,7.80 C459.77,7.85 465.07,7.65 468.60,8.10 C472.13,8.55 475.67,8.88 479.20,10.50 C482.73,12.12 486.27,14.97 489.80,17.80 C493.33,20.63 496.87,22.63 500.40,27.50 C503.93,32.37 507.47,39.03 511.00,47.00 C514.53,54.97 518.07,64.53 521.60,75.30 C525.13,86.07 528.67,101.07 532.20,111.60 C535.73,122.13 539.27,130.65 542.80,138.50 C546.33,146.35 549.87,153.68 553.40,158.70 C556.93,163.72 560.47,166.13 564.00,168.60 C567.53,171.07 571.07,172.42 574.60,173.50 C578.13,174.58 581.67,175.23 585.20,175.10 C588.73,174.97 592.27,173.00 595.80,172.70 C599.33,172.40 602.87,173.30 606.40,173.30 C609.93,173.30 613.47,172.27 617.00,172.70 C620.53,173.13 624.07,175.52 627.60,175.90 C631.13,176.28 634.67,175.32 638.20,175.00 C641.73,174.68 645.27,173.67 648.80,174.00 C652.33,174.33 655.87,177.07 659.40,177.00 C662.93,176.93 650.57,172.77 670.00,173.60 C689.43,174.43 758.33,180.60 776.00,182.00" fill="none" stroke="#E4822F" stroke-width="2.5" stroke-linejoin="round"/>
<circle cx="458.00" cy="7.80" r="5.1" fill="#EA8A3D"/>
<circle cx="468.60" cy="8.10" r="5.1" fill="#EA8A3D"/>
<circle cx="479.20" cy="10.50" r="5.1" fill="#EA8A3D"/>
<circle cx="489.80" cy="17.80" r="5.1" fill="#EA8A3D"/>
<circle cx="500.40" cy="27.50" r="5.1" fill="#EA8A3D"/>
<circle cx="511.00" cy="47.00" r="5.1" fill="#EA8A3D"/>
<circle cx="521.60" cy="75.30" r="5.1" fill="#EA8A3D"/>
<circle cx="532.20" cy="111.60" r="5.1" fill="#EA8A3D"/>
<circle cx="542.80" cy="138.50" r="5.1" fill="#EA8A3D"/>
<circle cx="553.40" cy="158.70" r="5.1" fill="#EA8A3D"/>
<circle cx="564.00" cy="168.60" r="5.1" fill="#EA8A3D"/>
<circle cx="574.60" cy="173.50" r="5.1" fill="#EA8A3D"/>
<circle cx="585.20" cy="175.10" r="5.1" fill="#EA8A3D"/>
<circle cx="595.80" cy="172.70" r="5.1" fill="#EA8A3D"/>
<circle cx="606.40" cy="173.30" r="5.1" fill="#EA8A3D"/>
<circle cx="617.00" cy="172.70" r="5.1" fill="#EA8A3D"/>
<circle cx="627.60" cy="175.90" r="5.1" fill="#EA8A3D"/>
<circle cx="638.20" cy="175.00" r="5.1" fill="#EA8A3D"/>
<circle cx="648.80" cy="174.00" r="5.1" fill="#EA8A3D"/>
<circle cx="659.40" cy="177.00" r="5.1" fill="#EA8A3D"/>
<circle cx="670.00" cy="173.60" r="5.1" fill="#EA8A3D"/>
<circle cx="776.00" cy="182.00" r="5.1" fill="#EA8A3D"/>
<path d="M458.00,7.70 C463.30,7.70 482.73,6.52 489.80,7.70 C496.87,8.88 496.87,13.38 500.40,14.80 C503.93,16.22 507.47,14.88 511.00,16.20 C514.53,17.52 518.07,20.20 521.60,22.70 C525.13,25.20 528.67,26.88 532.20,31.20 C535.73,35.52 539.27,43.47 542.80,48.60 C546.33,53.73 549.87,56.63 553.40,62.00 C556.93,67.37 560.47,72.30 564.00,80.80 C567.53,89.30 571.07,101.75 574.60,113.00 C578.13,124.25 581.67,134.18 585.20,148.30 C588.73,162.42 592.27,186.77 595.80,197.70 C599.33,208.63 602.87,209.28 606.40,213.90 C609.93,218.52 613.47,223.90 617.00,225.40 C620.53,226.90 624.07,222.73 627.60,222.90 C631.13,223.07 634.67,225.98 638.20,226.40 C641.73,226.82 645.27,225.30 648.80,225.40 C652.33,225.50 655.87,226.90 659.40,227.00 C662.93,227.10 666.47,226.87 670.00,226.00 C673.53,225.13 677.07,221.62 680.60,221.80 C684.13,221.98 687.67,226.33 691.20,227.10 C694.73,227.87 698.27,226.73 701.80,226.40 C705.33,226.07 708.87,225.32 712.40,225.10 C715.93,224.88 719.47,224.55 723.00,225.10 C726.53,225.65 730.07,228.62 733.60,228.40 C737.13,228.18 740.67,224.02 744.20,223.80 C747.73,223.58 751.27,226.55 754.80,227.10 C758.33,227.65 761.87,227.10 765.40,227.10 C768.93,227.10 774.23,227.10 776.00,227.10" fill="none" stroke="#3A9DBA" stroke-width="2.5" stroke-linejoin="round"/>
<path d="M458.00,3.10V12.30M453.63,3.33L462.37,12.07M453.63,12.07L462.37,3.33" stroke="#3FA3BF" stroke-width="1.5" fill="none"/>
<path d="M489.80,3.10V12.30M485.43,3.33L494.17,12.07M485.43,12.07L494.17,3.33" stroke="#3FA3BF" stroke-width="1.5" fill="none"/>
<path d="M500.40,10.20V19.40M496.03,10.43L504.77,19.17M496.03,19.17L504.77,10.43" stroke="#3FA3BF" stroke-width="1.5" fill="none"/>
<path d="M511.00,11.60V20.80M506.63,11.83L515.37,20.57M506.63,20.57L515.37,11.83" stroke="#3FA3BF" stroke-width="1.5" fill="none"/>
<path d="M521.60,18.10V27.30M517.23,18.33L525.97,27.07M517.23,27.07L525.97,18.33" stroke="#3FA3BF" stroke-width="1.5" fill="none"/>
<path d="M532.20,26.60V35.80M527.83,26.83L536.57,35.57M527.83,35.57L536.57,26.83" stroke="#3FA3BF" stroke-width="1.5" fill="none"/>
<path d="M542.80,44.00V53.20M538.43,44.23L547.17,52.97M538.43,52.97L547.17,44.23" stroke="#3FA3BF" stroke-width="1.5" fill="none"/>
<path d="M553.40,57.40V66.60M549.03,57.63L557.77,66.37M549.03,66.37L557.77,57.63" stroke="#3FA3BF" stroke-width="1.5" fill="none"/>
<path d="M564.00,76.20V85.40M559.63,76.43L568.37,85.17M559.63,85.17L568.37,76.43" stroke="#3FA3BF" stroke-width="1.5" fill="none"/>
<path d="M574.60,108.40V117.60M570.23,108.63L578.97,117.37M570.23,117.37L578.97,108.63" stroke="#3FA3BF" stroke-width="1.5" fill="none"/>
<path d="M585.20,143.70V152.90M580.83,143.93L589.57,152.67M580.83,152.67L589.57,143.93" stroke="#3FA3BF" stroke-width="1.5" fill="none"/>
<path d="M595.80,193.10V202.30M591.43,193.33L600.17,202.07M591.43,202.07L600.17,193.33" stroke="#3FA3BF" stroke-width="1.5" fill="none"/>
<path d="M606.40,209.30V218.50M602.03,209.53L610.77,218.27M602.03,218.27L610.77,209.53" stroke="#3FA3BF" stroke-width="1.5" fill="none"/>
<path d="M617.00,220.80V230.00M612.63,221.03L621.37,229.77M612.63,229.77L621.37,221.03" stroke="#3FA3BF" stroke-width="1.5" fill="none"/>
<path d="M627.60,218.30V227.50M623.23,218.53L631.97,227.27M623.23,227.27L631.97,218.53" stroke="#3FA3BF" stroke-width="1.5" fill="none"/>
<path d="M638.20,221.80V231.00M633.83,222.03L642.57,230.77M633.83,230.77L642.57,222.03" stroke="#3FA3BF" stroke-width="1.5" fill="none"/>
<path d="M648.80,220.80V230.00M644.43,221.03L653.17,229.77M644.43,229.77L653.17,221.03" stroke="#3FA3BF" stroke-width="1.5" fill="none"/>
<path d="M659.40,222.40V231.60M655.03,222.63L663.77,231.37M655.03,231.37L663.77,222.63" stroke="#3FA3BF" stroke-width="1.5" fill="none"/>
<path d="M670.00,221.40V230.60M665.63,221.63L674.37,230.37M665.63,230.37L674.37,221.63" stroke="#3FA3BF" stroke-width="1.5" fill="none"/>
<path d="M680.60,217.20V226.40M676.23,217.43L684.97,226.17M676.23,226.17L684.97,217.43" stroke="#3FA3BF" stroke-width="1.5" fill="none"/>
<path d="M691.20,222.50V231.70M686.83,222.73L695.57,231.47M686.83,231.47L695.57,222.73" stroke="#3FA3BF" stroke-width="1.5" fill="none"/>
<path d="M701.80,221.80V231.00M697.43,222.03L706.17,230.77M697.43,230.77L706.17,222.03" stroke="#3FA3BF" stroke-width="1.5" fill="none"/>
<path d="M712.40,220.50V229.70M708.03,220.73L716.77,229.47M708.03,229.47L716.77,220.73" stroke="#3FA3BF" stroke-width="1.5" fill="none"/>
<path d="M723.00,220.50V229.70M718.63,220.73L727.37,229.47M718.63,229.47L727.37,220.73" stroke="#3FA3BF" stroke-width="1.5" fill="none"/>
<path d="M733.60,223.80V233.00M729.23,224.03L737.97,232.77M729.23,232.77L737.97,224.03" stroke="#3FA3BF" stroke-width="1.5" fill="none"/>
<path d="M744.20,219.20V228.40M739.83,219.43L748.57,228.17M739.83,228.17L748.57,219.43" stroke="#3FA3BF" stroke-width="1.5" fill="none"/>
<path d="M754.80,222.50V231.70M750.43,222.73L759.17,231.47M750.43,231.47L759.17,222.73" stroke="#3FA3BF" stroke-width="1.5" fill="none"/>
<path d="M765.40,222.50V231.70M761.03,222.73L769.77,231.47M761.03,231.47L769.77,222.73" stroke="#3FA3BF" stroke-width="1.5" fill="none"/>
<path d="M776.00,222.50V231.70M771.63,222.73L780.37,231.47M771.63,231.47L780.37,222.73" stroke="#3FA3BF" stroke-width="1.5" fill="none"/>
<g font-family='"Liberation Serif", serif' font-weight="bold" font-size="14" letter-spacing="0.9" fill="#000" text-anchor="end">
<text x="446.5" y="12.6">0</text>
<text x="446.5" y="51.8">-0.5</text>
<text x="446.5" y="91.0">-1</text>
<text x="446.5" y="130.2">-1.5</text>
<text x="446.5" y="169.4">-2</text>
<text x="446.5" y="208.6">-2.5</text>
<text x="446.5" y="247.8">-3</text>
<text x="446.5" y="287.0">-3.5</text>
<text x="446.5" y="326.2">-4</text>
</g>
<g font-family='"Liberation Serif", serif' font-weight="bold" font-size="14" letter-spacing="1.3" fill="#000" text-anchor="middle">
<text x="458.6" y="344">0</text>
<text x="522.2" y="344">6</text>
<text x="585.9" y="344">12</text>
<text x="649.4" y="344">18</text>
<text x="713.0" y="344">24</text>
<text x="776.6" y="344">30</text>
</g>
<text x="579.5" y="366.2" font-family='"Liberation Serif", serif' font-weight="bold" font-size="16.2">Time (min)</text>
<text transform="translate(408.8,197.6) rotate(-90)" font-family='"Liberation Serif", serif' font-weight="bold" font-size="16">ln (A<tspan font-size="11" dy="3">t</tspan><tspan dy="-3">/A</tspan><tspan font-size="11" dy="3">o</tspan><tspan dy="-3">)</tspan></text>
<text x="403" y="16.9" font-family='"Liberation Sans", sans-serif' font-weight="bold" font-size="17">b</text>
<line x1="680.5" y1="22.8" x2="709" y2="22.8" stroke="#B8433F" stroke-width="2.75"/>
<rect x="690.70" y="18.50" width="8.6" height="8.6" fill="#B9433F"/>
<text x="711.3" y="27.7" font-family='"Liberation Serif", serif' font-weight="bold" font-size="14.5" textLength="65">Product A</text>
<line x1="680.5" y1="45.3" x2="709" y2="45.3" stroke="#8FB04E" stroke-width="2.75"/>
<path d="M695.00,41.00 L699.80,49.60 L690.20,49.60Z" fill="#92B450"/>
<text x="711.3" y="50.2" font-family='"Liberation Serif", serif' font-weight="bold" font-size="14.5" textLength="65">Product B</text>
<line x1="680.5" y1="67.8" x2="709" y2="67.8" stroke="#3B6DAE" stroke-width="2.75"/>
<path d="M695.00,63.20 L699.60,67.80 L695.00,72.40 L690.40,67.80Z" fill="#3F72B5"/>
<text x="711.3" y="72.7" font-family='"Liberation Serif", serif' font-weight="bold" font-size="14.5" textLength="65">Product C</text>
<line x1="680.5" y1="90.3" x2="709" y2="90.3" stroke="#E4822F" stroke-width="2.75"/>
<circle cx="695.00" cy="90.30" r="4.6" fill="#EA8A3D"/>
<text x="711.3" y="95.2" font-family='"Liberation Serif", serif' font-weight="bold" font-size="14.5" textLength="65">Product D</text>
<line x1="680.5" y1="112.8" x2="709" y2="112.8" stroke="#3A9DBA" stroke-width="2.75"/>
<path d="M695.00,108.50V117.10M690.91,108.72L699.09,116.88M690.91,116.88L699.09,108.72" stroke="#3FA3BF" stroke-width="1.5" fill="none"/>
<text x="711.3" y="117.7" font-family='"Liberation Serif", serif' font-weight="bold" font-size="14.5" textLength="65">Product E</text>
</svg></body></html>
